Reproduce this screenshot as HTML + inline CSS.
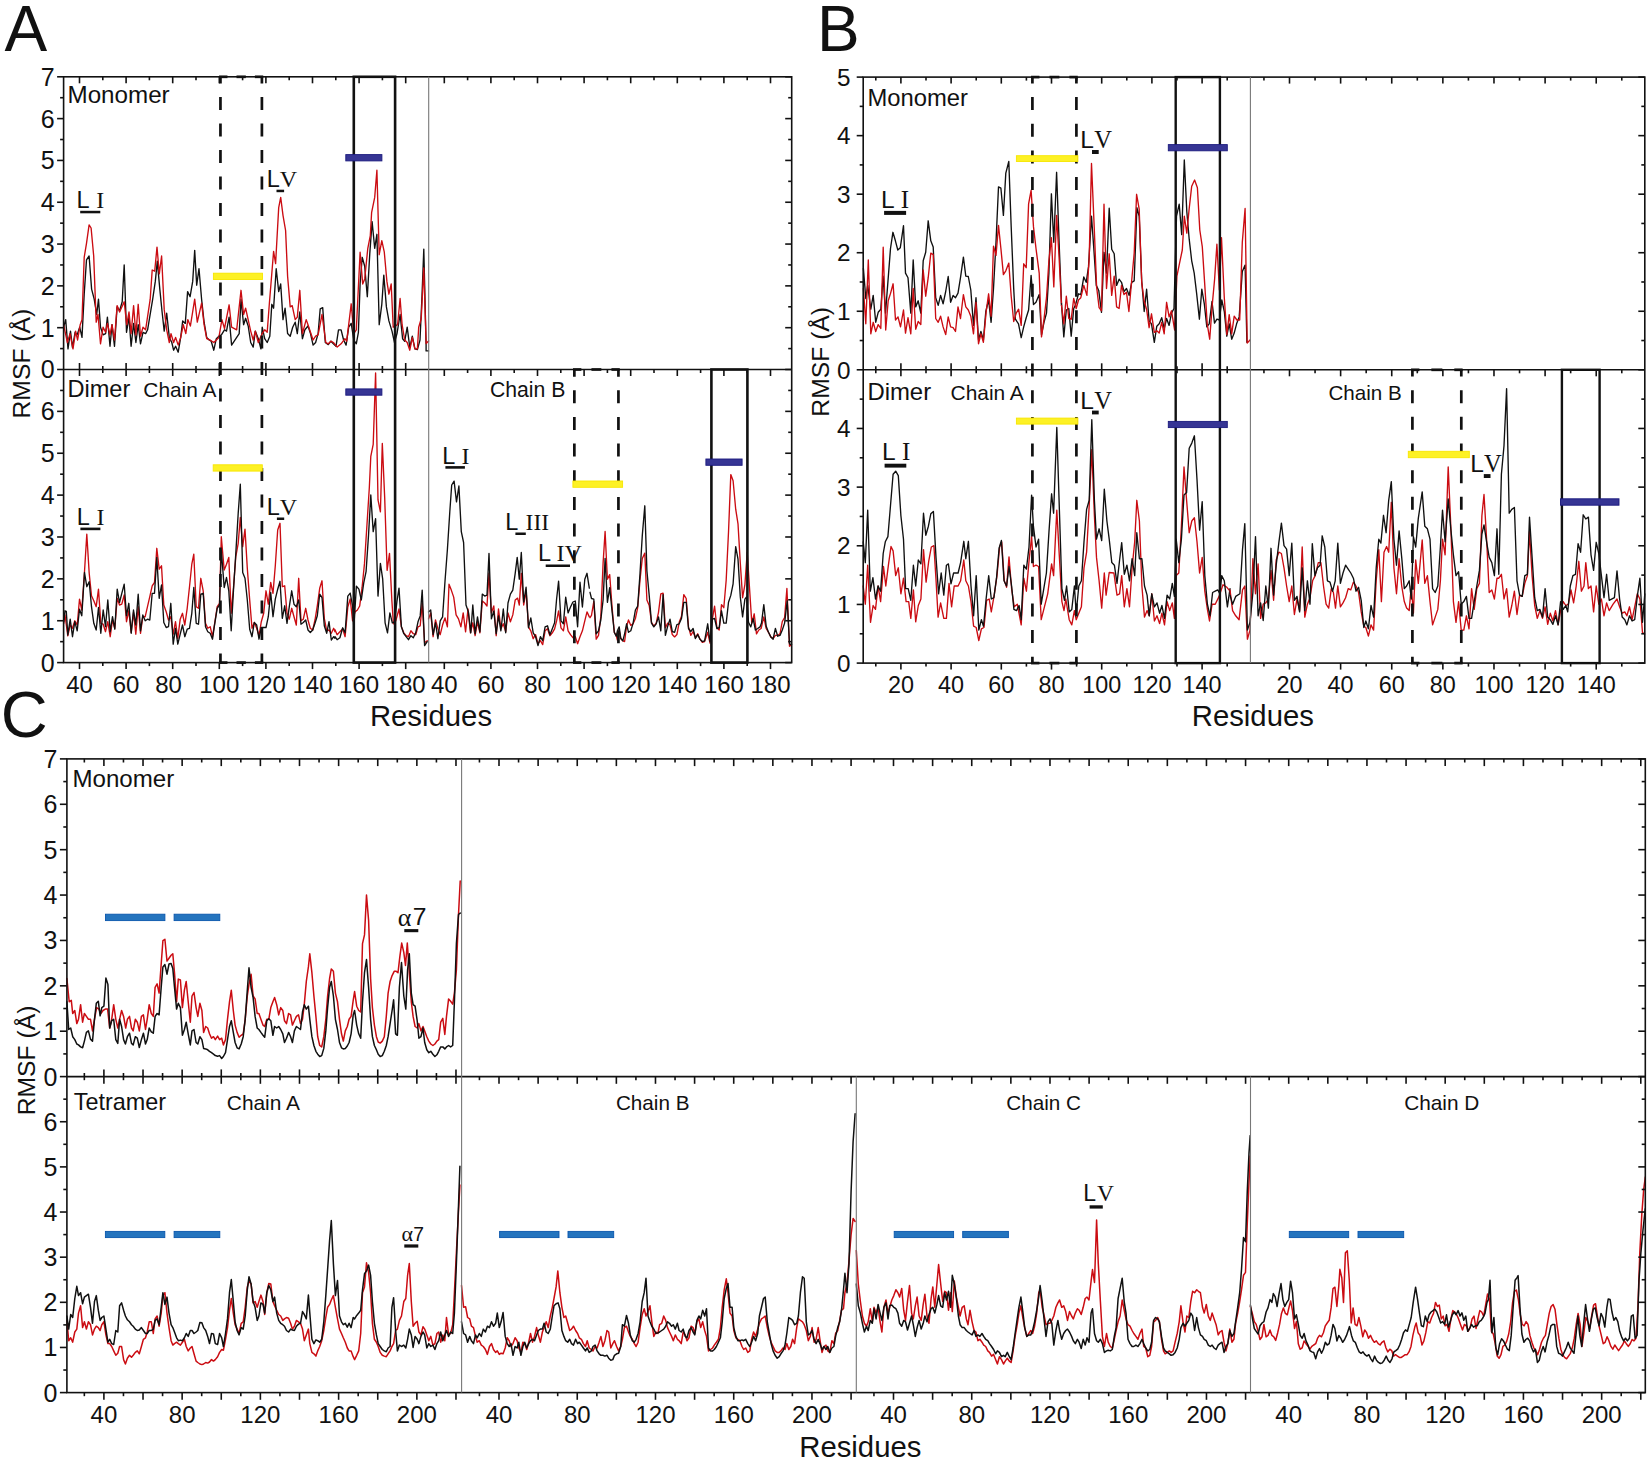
<!DOCTYPE html>
<html lang="en"><head><meta charset="utf-8"><title>RMSF figure</title>
<style>html,body{margin:0;padding:0;background:#fff}svg{display:block}</style></head>
<body><svg width="1650" height="1463" viewBox="0 0 1650 1463">
<rect width="1650" height="1463" fill="#fff"/>
<polyline points="63.6,327.2 65.7,319.6 68.0,348.9 70.5,331.1 72.5,347.6 75.1,332.3 77.1,334.9 79.7,327.2 82.0,337.4 84.2,294.2 86.5,259.8 89.1,256.0 91.6,289.1 94.2,299.2 96.7,314.5 98.5,299.2 100.5,327.2 103.1,334.9 105.6,333.6 107.4,317.1 110.0,346.3 112.0,324.7 114.5,346.3 117.1,306.9 119.6,310.7 122.2,301.8 124.2,264.9 126.5,332.3 129.0,317.1 131.1,346.3 133.6,323.4 135.9,342.5 138.2,324.7 140.5,343.8 143.0,332.3 145.6,333.6 147.6,329.8 152.7,299.2 155.3,281.4 157.3,261.1 159.8,289.1 162.1,312.0 164.2,331.1 166.7,313.2 169.3,337.4 171.8,342.5 173.6,350.2 175.6,346.3 178.2,352.2 180.7,337.4 182.7,320.9 185.3,323.4 187.6,291.6 190.1,296.7 192.7,281.4 194.7,250.4 196.7,285.2 199.0,268.7 201.6,299.2 204.1,322.2 206.7,337.4 209.2,340.0 211.2,341.2 213.8,350.2 216.3,338.7 218.9,336.2 221.4,334.9 224.5,329.8 226.5,331.1 229.1,317.1 231.6,345.1 236.7,337.4 239.2,333.6 241.0,299.2 243.6,324.7 245.6,318.3 248.2,326.0 250.7,342.5 253.2,347.1 255.3,331.1 258.3,338.7 260.9,348.9 262.2,327.2 264.7,338.7 267.2,342.5 269.8,336.2 271.8,304.3 273.6,308.2 276.2,268.7 278.7,291.6 280.7,284.0 283.0,319.6 285.1,308.2 287.6,333.6 290.2,336.2 292.7,327.2 295.2,322.2 297.3,333.6 299.8,312.0 302.4,338.7 304.9,329.8 308.0,326.0 310.5,333.6 313.1,345.1 315.6,342.5 318.1,333.6 320.2,308.9 322.7,307.6 325.3,342.5 328.3,344.6 330.9,341.2 333.4,343.8 336.0,346.3 338.5,329.8 341.1,329.8 343.6,340.0 346.1,345.1 348.7,327.2 351.2,323.4 353.8,340.0 356.3,343.8 358.4,332.3 360.1,284.0 362.2,257.3 364.7,266.2 367.3,296.7 369.8,253.4 372.1,221.6 374.7,248.3 376.9,234.3 379.2,324.7 381.8,304.3 383.8,275.1 386.4,306.9 388.9,320.9 392.0,331.1 394.5,342.5 397.0,333.6 400.1,314.5 402.6,338.7 404.7,341.2 407.2,327.2 409.8,347.6 412.3,336.2 414.9,348.9 417.4,349.6 420.0,340.0 422.0,295.9 423.8,249.1 426.1,345.1 426.1,350.9 428.6,350.9" fill="none" stroke="#101010" stroke-width="1.35" stroke-linejoin="round" stroke-linecap="round"/>
<polyline points="63.6,324.7 67.4,342.5 70.0,333.6 73.0,348.9 75.6,331.1 77.6,340.0 80.2,324.7 82.0,319.6 84.2,257.3 86.5,243.3 89.1,224.9 91.1,228.0 93.7,256.0 96.2,322.2 98.0,314.5 100.5,343.8 103.1,327.2 105.6,332.3 107.4,323.4 110.0,334.9 112.0,324.7 114.5,340.0 117.1,305.6 119.6,312.0 124.2,301.8 126.7,324.7 129.0,312.0 131.1,333.6 133.6,305.6 135.9,334.9 138.2,304.3 140.5,336.2 143.0,327.2 145.6,329.8 150.2,299.2 152.2,270.0 154.7,271.2 157.0,247.1 159.3,273.8 161.6,256.0 164.2,309.4 166.7,329.8 169.3,342.5 171.0,333.6 173.6,342.5 175.6,337.4 178.2,345.1 180.7,337.4 183.3,324.7 185.8,333.6 187.8,319.6 190.4,326.0 194.7,299.2 197.3,322.2 201.6,303.1 204.1,324.7 206.7,338.7 210.0,340.0 213.8,342.5 218.9,337.4 221.9,319.6 224.5,328.5 229.1,304.8 231.6,327.2 236.7,329.8 241.0,290.3 243.6,314.5 245.6,308.2 250.7,331.1 253.2,340.0 255.3,331.1 258.3,342.5 262.2,333.6 264.7,329.8 267.2,332.3 269.3,304.3 273.6,251.4 275.6,263.6 278.7,207.6 280.7,197.4 283.0,215.3 285.6,230.5 287.6,276.3 290.2,306.9 292.2,305.6 295.2,319.6 297.3,317.1 299.8,290.3 302.4,333.6 306.2,319.6 308.0,324.7 313.1,340.0 315.6,336.2 318.1,334.9 322.0,314.5 325.8,342.5 328.3,343.8 330.9,341.2 333.4,342.5 337.2,347.1 341.1,343.8 344.9,338.7 346.7,341.2 351.2,303.8 353.8,333.6 356.3,329.8 360.1,252.2 362.7,284.0 364.7,278.9 367.8,248.3 370.3,235.6 371.6,212.7 374.7,197.4 376.9,170.2 379.2,254.7 381.8,240.7 384.3,252.2 386.9,281.4 388.9,294.2 391.2,284.0 393.2,327.2 397.6,324.7 400.1,298.5 402.1,324.7 404.7,340.0 407.2,342.5 409.8,350.2 412.3,337.4 414.9,348.9 417.4,348.9 418.7,327.2 421.2,318.8 423.8,267.9 426.1,343.5 428.6,341.0" fill="none" stroke="#cb0c12" stroke-width="1.35" stroke-linejoin="round" stroke-linecap="round"/>
<polyline points="863.2,586.0 865.3,604.2 867.7,565.2 870.5,622.3 873.1,605.5 875.5,609.4 878.1,586.0 880.6,601.6 883.5,566.5 885.8,586.0 888.4,565.2 891.0,546.5 893.1,550.9 895.7,575.6 898.3,567.8 900.9,593.8 903.5,578.2 906.1,601.6 908.7,601.6 910.8,618.4 913.4,589.9 915.7,621.8 918.3,605.5 920.9,599.0 923.5,549.6 926.1,582.1 928.7,561.3 931.3,547.0 933.9,545.7 936.0,579.5 938.1,617.1 940.6,602.9 943.8,618.4 946.4,618.4 949.0,583.4 951.6,606.8 954.2,586.0 958.1,586.0 960.6,580.8 963.8,560.0 965.8,580.8 968.4,586.0 971.0,601.6 973.6,626.2 976.2,627.5 978.8,640.5 981.4,628.8 984.0,627.5 986.6,600.3 989.2,599.0 991.3,611.9 994.4,593.8 997.0,575.6 999.6,547.0 1001.7,541.8 1004.3,580.8 1006.6,587.3 1009.0,556.9 1011.6,588.6 1014.2,606.8 1017.3,604.2 1021.2,624.9 1023.8,578.2 1026.4,591.2 1029.0,561.3 1031.6,536.6 1033.4,566.5 1036.0,565.2 1038.6,566.5 1041.2,619.7 1043.8,609.4 1047.7,593.8 1051.6,563.9 1053.6,575.6 1056.8,510.1 1059.4,557.4 1061.9,601.6 1064.0,610.6 1065.8,599.0 1069.2,619.7 1071.8,624.9 1074.4,610.6 1076.2,619.7 1081.4,606.8 1084.0,567.8 1086.6,552.2 1089.2,505.5 1091.8,449.6 1094.4,515.8 1096.5,557.4 1099.1,580.8 1101.7,608.1 1104.3,573.0 1106.1,595.1 1109.2,572.5 1113.9,573.0 1117.0,595.1 1119.6,593.8 1121.7,575.6 1124.3,606.8 1126.9,588.6 1129.5,606.8 1132.1,567.8 1134.7,541.8 1136.8,500.3 1139.4,521.0 1141.9,586.0 1144.5,617.1 1147.1,610.6 1149.2,615.8 1151.8,593.8 1154.4,621.0 1157.0,615.8 1159.6,623.6 1161.9,613.2 1164.5,624.9 1167.1,601.6 1169.7,610.6 1172.3,602.9 1174.4,618.4 1176.2,575.6 1178.8,573.0 1181.4,526.2 1184.0,467.0 1186.6,500.3 1189.2,532.7 1191.8,521.0 1194.4,517.7 1197.0,541.8 1199.6,573.0 1202.2,557.4 1204.8,591.2 1207.4,609.4 1209.5,621.0 1212.1,604.2 1215.2,604.2 1219.1,596.4 1223.0,584.7 1226.9,587.3 1230.0,591.2" fill="none" stroke="#cb0c12" stroke-width="1.35" stroke-linejoin="round" stroke-linecap="round"/>
<polyline points="863.2,541.8 865.3,562.6 867.7,510.1 870.3,591.2 872.9,577.7 875.5,599.0 878.1,586.0 880.6,591.2 883.2,553.5 885.3,541.8 887.9,536.6 890.5,505.5 893.1,474.3 895.7,471.2 898.3,475.6 900.9,515.8 903.5,539.2 905.6,588.6 908.2,588.6 910.8,600.3 913.4,565.2 915.7,586.0 918.3,560.0 920.9,563.9 923.5,513.2 925.8,535.3 928.4,526.2 930.8,513.8 933.4,511.4 936.0,557.4 938.6,593.8 941.2,573.0 943.8,595.1 946.4,565.2 948.4,563.9 951.0,583.9 953.6,573.0 958.1,573.0 960.6,562.6 963.8,541.3 965.8,558.7 968.4,541.3 971.0,586.0 973.6,615.8 976.2,575.6 978.8,630.1 981.4,619.7 983.5,626.2 986.1,599.0 988.7,575.6 991.3,599.0 993.9,597.7 996.5,578.2 999.1,548.3 1001.4,540.5 1004.0,580.8 1006.6,586.0 1009.0,566.5 1011.6,586.0 1013.9,609.4 1016.5,610.6 1019.1,605.5 1021.2,619.7 1023.8,565.2 1026.4,569.1 1029.0,547.0 1031.6,495.1 1033.4,526.2 1036.0,547.0 1038.6,539.2 1041.2,604.2 1043.8,588.6 1046.4,573.0 1049.0,531.4 1051.6,493.8 1053.6,513.2 1056.8,427.5 1059.4,510.6 1061.9,588.6 1064.5,600.3 1066.6,586.0 1069.2,611.9 1071.8,609.4 1074.4,586.0 1076.2,613.2 1078.8,586.0 1081.4,580.8 1084.0,541.8 1086.6,509.4 1089.2,500.3 1091.8,419.7 1094.4,500.3 1096.5,539.2 1099.1,528.8 1101.7,540.5 1104.3,489.1 1106.9,521.0 1109.2,539.2 1111.8,562.6 1114.4,565.2 1117.0,583.4 1119.6,560.0 1121.7,542.6 1124.3,574.3 1126.9,565.2 1129.5,580.8 1132.1,558.7 1134.7,575.6 1136.8,532.7 1139.4,558.7 1141.9,558.7 1144.5,586.0 1147.1,595.1 1149.2,615.8 1151.8,593.8 1154.4,606.8 1157.0,602.9 1159.6,613.2 1161.9,605.5 1164.5,618.4 1167.1,595.1 1169.7,599.0 1172.3,583.4 1174.4,596.4 1176.2,539.2 1178.8,562.6 1181.4,539.2 1184.0,495.1 1186.6,492.5 1189.2,448.3 1191.8,443.1 1194.4,435.8 1197.0,479.5 1199.6,530.1 1202.2,501.6 1204.8,575.6 1207.4,604.2 1210.0,615.8 1212.6,592.5 1215.2,591.2 1217.8,589.9 1219.9,593.8 1221.7,575.6 1224.3,580.8 1227.4,606.8 1230.0,588.6" fill="none" stroke="#101010" stroke-width="1.35" stroke-linejoin="round" stroke-linecap="round"/>
<polyline points="1230.0,589.9 1232.6,610.6 1235.7,615.8 1239.1,619.7 1242.5,589.9 1244.8,586.0 1247.4,639.2 1250.0,630.1 1252.9,558.7 1255.5,593.8 1258.1,563.9 1260.6,618.4 1263.2,604.2 1265.8,602.9 1268.4,599.0 1271.0,570.4 1273.6,600.3 1276.2,560.0 1278.8,552.2 1281.4,553.5 1284.0,567.8 1286.6,586.0 1289.2,601.6 1291.8,586.0 1294.4,614.5 1297.0,599.0 1299.6,610.6 1302.2,547.0 1304.8,617.1 1307.4,604.2 1310.0,597.7 1312.6,580.8 1315.2,575.6 1318.3,562.6 1320.9,562.6 1323.5,586.0 1326.1,604.2 1328.7,608.1 1331.3,588.6 1333.4,592.5 1335.5,608.1 1337.8,586.0 1340.4,606.8 1343.0,602.9 1345.6,597.7 1348.2,588.6 1350.8,589.9 1353.4,582.1 1356.0,586.0 1358.6,592.5 1361.2,611.9 1363.8,626.2 1365.8,627.5 1368.4,636.1 1371.0,624.9 1373.6,630.1 1376.2,580.8 1378.8,549.6 1381.4,601.6 1384.0,552.2 1386.6,546.5 1388.7,552.2 1391.3,502.3 1393.9,567.8 1396.5,593.8 1399.1,558.7 1401.7,586.0 1404.3,601.6 1406.6,608.1 1409.2,610.6 1411.3,586.0 1413.4,613.2 1415.7,560.0 1418.3,583.4 1422.2,540.0 1424.8,583.4 1427.4,575.6 1430.0,601.6 1432.6,624.9 1435.2,617.1 1437.8,609.4 1440.4,580.8 1442.5,539.2 1445.1,554.8 1448.2,467.0 1450.8,526.2 1453.4,601.6 1456.0,622.3 1458.6,601.6 1461.2,630.1 1463.8,630.1 1466.4,615.8 1469.0,628.8 1471.6,588.6 1474.2,609.4 1476.8,588.6 1479.4,583.4 1481.9,515.8 1484.0,494.5 1486.6,539.2 1489.2,592.5 1491.8,589.9 1494.4,599.0 1497.0,578.2 1498.8,578.2 1501.4,574.3 1504.0,599.0 1506.6,588.6 1509.2,617.1 1511.8,605.5 1514.4,591.2 1517.0,614.5 1519.6,595.1 1522.2,596.4 1524.8,583.4 1527.4,575.6 1529.5,531.4 1532.1,575.6 1534.7,605.5 1537.3,618.4 1539.9,610.6 1542.5,618.4 1545.1,606.8 1547.7,624.4 1550.3,613.2 1552.9,621.0 1555.5,610.6 1558.1,624.9 1560.6,610.6 1563.2,601.6 1565.8,605.5 1568.4,604.2 1571.0,589.9 1573.6,602.9 1576.2,586.0 1578.8,561.3 1581.4,591.2 1584.0,586.0 1585.8,562.6 1588.4,588.6 1591.0,586.0 1593.6,611.9 1596.2,586.0 1598.8,604.2 1601.4,599.0 1604.0,615.8 1606.6,602.9 1609.2,610.6 1613.1,604.2 1617.0,599.0 1619.6,606.8 1622.2,613.2 1624.8,611.9 1626.9,615.8 1629.5,606.8 1632.1,619.7 1634.7,606.8 1637.3,593.8 1639.9,599.0 1642.5,632.7 1644.8,634.0" fill="none" stroke="#cb0c12" stroke-width="1.35" stroke-linejoin="round" stroke-linecap="round"/>
<polyline points="1230.0,595.1 1232.6,604.2 1235.7,596.4 1239.9,593.8 1242.5,549.6 1244.8,523.6 1247.4,630.1 1250.0,622.3 1252.9,592.5 1255.5,536.6 1258.1,615.8 1260.6,602.9 1263.2,620.5 1265.8,586.0 1268.4,608.1 1271.0,548.3 1273.6,595.1 1276.2,565.2 1278.8,543.1 1281.4,523.1 1284.0,545.7 1286.6,549.1 1289.2,575.6 1291.8,543.1 1294.4,600.3 1297.0,596.4 1299.6,611.9 1302.2,567.8 1304.8,610.6 1307.4,580.8 1310.0,604.2 1312.3,543.6 1314.9,575.6 1317.5,567.8 1320.1,565.2 1322.2,535.8 1324.8,547.0 1327.4,580.8 1330.0,582.1 1332.6,591.2 1335.2,580.8 1337.8,543.1 1340.4,583.4 1343.0,573.0 1345.6,565.2 1348.2,569.1 1350.8,573.0 1353.4,578.2 1356.0,591.2 1358.6,587.3 1361.2,600.3 1363.8,627.5 1365.8,621.0 1368.4,628.8 1371.0,605.5 1373.6,617.1 1376.2,567.8 1378.8,539.2 1380.9,543.1 1383.5,515.3 1386.1,532.7 1388.7,500.3 1391.3,481.6 1393.9,539.2 1396.5,565.2 1399.1,530.9 1401.7,557.4 1404.3,588.6 1406.6,586.0 1409.2,580.8 1411.3,599.0 1413.4,536.6 1415.7,547.0 1418.3,518.4 1422.2,491.9 1424.8,526.2 1427.4,528.8 1430.0,539.2 1432.6,588.6 1435.2,592.5 1437.8,586.0 1440.4,547.0 1442.5,510.1 1445.1,541.8 1448.2,499.0 1450.8,528.8 1453.4,554.8 1456.0,575.6 1458.6,571.7 1461.2,604.2 1463.8,601.6 1466.4,596.4 1469.0,618.4 1471.6,618.4 1474.2,601.6 1476.8,586.0 1479.4,570.4 1481.9,534.0 1484.0,524.9 1486.6,541.8 1489.2,557.4 1491.8,562.6 1494.4,575.6 1497.0,528.8 1498.8,574.3 1501.4,474.3 1504.0,445.7 1506.6,388.6 1509.2,513.2 1511.8,509.4 1514.4,507.5 1517.0,580.8 1519.6,595.1 1522.2,596.4 1524.8,575.6 1527.4,574.3 1529.5,517.1 1532.1,557.4 1534.7,597.7 1537.3,610.6 1539.9,609.4 1542.5,617.1 1545.1,588.6 1547.7,617.1 1550.3,619.7 1552.9,624.4 1555.5,615.8 1558.1,624.9 1560.6,601.6 1563.2,609.4 1565.8,605.5 1567.7,611.9 1570.3,586.0 1572.9,575.6 1575.5,574.3 1578.1,543.6 1580.6,552.2 1583.2,514.8 1585.8,519.0 1588.4,517.1 1591.0,554.8 1593.6,570.4 1596.2,542.3 1598.8,553.5 1601.4,575.6 1604.0,597.7 1606.6,574.3 1609.2,600.3 1614.4,597.7 1617.0,570.9 1619.6,599.0 1622.2,617.1 1624.8,619.7 1626.9,624.9 1629.5,615.8 1632.1,621.0 1634.7,619.7 1637.3,596.4 1639.9,578.2 1642.5,622.3 1644.8,593.8" fill="none" stroke="#101010" stroke-width="1.35" stroke-linejoin="round" stroke-linecap="round"/>
<polyline points="66.9,978.5 69.2,1001.8 71.3,1000.4 72.7,1013.5 74.8,1010.5 76.8,1023.6 78.5,1019.3 80.6,1004.7 82.6,1022.2 84.4,1013.5 86.4,1016.4 88.4,1019.3 90.5,1019.3 92.5,1030.9 94.5,1019.3 96.6,1007.6 98.9,1009.1 100.9,1013.5 103.0,1010.5 105.3,1009.1 107.6,1009.1 109.7,1028.0 111.7,1019.3 113.7,1004.7 115.8,1019.3 117.8,1028.0 119.6,1019.3 121.6,1010.5 123.6,1016.4 125.7,1028.0 127.4,1019.3 129.5,1016.4 131.5,1028.0 133.2,1030.9 135.3,1019.3 137.3,1022.2 139.3,1030.9 141.4,1016.4 143.4,1014.9 145.5,1029.5 147.2,1019.3 149.2,1004.7 151.3,1013.5 153.3,1016.4 155.1,987.3 157.1,983.8 159.1,993.1 161.2,964.0 162.9,940.7 164.9,939.3 167.0,961.1 169.0,958.2 171.1,955.3 172.8,953.8 174.5,972.7 176.6,1001.8 178.3,979.1 180.4,980.0 182.4,1007.6 184.4,990.2 186.2,981.5 188.2,1001.8 190.3,1022.2 192.0,996.0 194.0,992.5 196.1,1007.6 197.8,1016.4 199.9,1003.3 201.9,1010.5 203.6,1032.4 205.7,1026.5 207.7,1028.0 209.5,1033.8 211.5,1038.2 213.5,1036.7 215.3,1039.6 217.6,1036.1 219.6,1039.6 221.7,1038.2 223.4,1044.9 225.5,1039.6 227.5,1019.3 229.5,1001.8 231.3,990.2 233.3,1010.5 235.1,1025.1 237.1,1032.4 239.1,1037.3 241.2,1035.3 243.2,1033.8 245.2,1019.3 247.3,996.0 249.0,984.4 251.1,974.2 253.1,996.0 255.1,998.9 257.2,1013.5 258.9,1013.5 260.9,1019.3 263.0,1025.1 264.7,1026.5 266.8,1019.3 268.8,1019.3 270.8,1007.6 272.9,1001.8 274.6,997.5 276.7,1004.7 278.7,1014.9 280.7,1007.6 282.8,1010.5 284.5,1020.7 286.5,1023.6 288.6,1013.5 290.6,1014.9 292.4,1025.1 294.4,1020.7 296.4,1016.4 298.5,1014.9 300.5,1023.6 302.5,1019.3 304.3,1004.1 306.3,981.5 308.4,966.9 309.8,953.8 311.9,972.7 313.9,996.0 315.9,1016.4 317.7,1036.7 319.7,1045.5 321.7,1046.9 323.8,1036.7 325.8,1019.3 327.6,996.0 329.6,978.5 331.3,968.9 333.4,971.3 335.4,993.1 337.5,1001.8 339.5,1019.3 341.5,1033.8 343.3,1041.1 345.3,1030.9 347.3,1026.5 349.1,1019.3 351.1,1016.4 353.2,1000.4 354.6,991.6 356.7,1006.2 358.7,1010.5 360.7,1012.0 362.5,943.6 364.5,934.9 366.5,895.1 368.6,920.4 370.6,978.5 372.4,1007.6 374.4,1025.1 376.4,1036.7 378.2,1042.0 380.2,1043.1 382.3,1041.1 384.3,1036.7 386.3,1016.4 388.1,993.1 390.1,981.5 392.1,975.6 394.2,971.3 396.2,971.3 398.0,972.7 400.0,955.3 401.7,943.1 403.8,952.4 405.5,965.5 407.3,943.1 409.3,972.7 411.3,1001.8 413.1,1016.4 415.1,1026.5 417.2,1028.0 418.9,1023.6 420.9,1030.9 423.0,1026.5 424.7,1030.9 426.8,1036.7 428.8,1041.1 430.8,1044.0 432.9,1045.5 434.9,1044.0 436.9,1041.1 438.7,1039.6 440.7,1022.2 442.8,1018.4 444.8,1034.4 446.5,1016.4 448.6,998.9 450.6,1001.2 452.7,1004.1 454.4,993.1 456.4,969.8 458.5,914.5 460.2,881.1" fill="none" stroke="#cb0c12" stroke-width="1.5" stroke-linejoin="round" stroke-linecap="round"/>
<polyline points="66.9,1001.8 68.7,1029.5 70.7,1028.0 72.7,1036.7 74.8,1039.6 76.8,1044.0 78.5,1044.9 80.6,1046.9 82.6,1047.8 84.4,1041.1 86.4,1032.4 88.4,1030.9 90.5,1039.1 92.5,1041.1 94.5,1019.3 96.3,1003.3 98.3,1001.2 100.1,1015.8 101.8,1007.6 103.9,1006.2 105.9,978.0 107.9,984.4 109.7,1028.0 111.7,1020.7 113.7,1019.3 115.8,1039.6 117.8,1043.4 119.6,1019.3 121.6,1026.5 123.6,1039.6 125.4,1044.0 127.4,1036.7 129.5,1033.2 131.5,1043.4 133.2,1044.9 135.3,1036.7 137.3,1038.2 139.3,1047.5 141.4,1039.6 143.4,1033.2 145.5,1044.0 147.2,1039.6 149.2,1028.0 151.3,1031.8 153.3,1033.2 155.1,1016.4 157.1,1013.5 159.1,1014.9 161.2,987.3 162.9,966.9 164.9,964.6 167.0,974.2 169.0,964.0 171.1,963.4 172.8,968.4 174.5,987.3 176.6,1009.1 178.3,1003.3 180.4,1007.6 182.4,1035.3 184.4,1029.5 186.2,1022.2 188.2,1033.8 190.3,1044.9 192.0,1030.9 194.0,1029.5 196.1,1042.5 197.8,1044.0 199.9,1036.7 201.9,1039.6 203.6,1048.4 205.7,1048.9 207.7,1049.8 209.5,1051.3 211.5,1052.7 213.5,1054.2 215.3,1055.6 217.6,1056.2 219.6,1055.6 221.7,1058.5 223.4,1056.5 225.5,1052.7 227.5,1039.6 229.5,1026.5 231.3,1020.7 233.3,1032.4 235.1,1042.5 237.1,1047.8 239.1,1048.9 241.2,1044.0 243.2,1036.7 245.2,1019.3 247.3,990.2 249.0,967.8 251.1,987.3 253.1,997.5 255.1,1016.4 257.2,1028.0 258.9,1029.5 260.9,1032.4 263.0,1035.3 264.7,1037.3 266.8,1020.7 268.8,1018.7 270.8,1020.7 272.9,1035.3 274.6,1026.5 276.7,1028.0 278.7,1026.5 280.7,1029.5 282.8,1033.8 284.5,1042.5 286.5,1038.2 288.6,1032.4 290.6,1036.7 292.4,1042.5 294.4,1030.9 296.4,1026.5 298.5,1028.0 300.5,1029.5 302.5,1012.0 304.3,1004.7 306.3,1009.1 308.4,1006.2 309.8,1019.3 311.9,1036.7 313.9,1045.5 315.9,1051.3 317.7,1054.2 319.7,1056.5 321.7,1055.6 323.8,1048.4 325.8,1030.9 327.6,1007.6 329.6,987.3 331.3,981.5 333.4,996.0 335.4,1019.3 337.5,1029.5 339.5,1042.5 341.5,1047.8 343.3,1048.9 345.3,1048.4 347.3,1046.0 349.1,1042.5 351.1,1033.8 353.2,1014.9 354.6,1010.5 356.7,1025.1 358.7,1033.8 360.7,1038.2 362.5,1001.8 364.5,972.7 366.5,959.6 368.6,987.3 370.6,1019.3 372.4,1036.7 374.4,1045.5 376.4,1049.8 378.2,1054.2 380.2,1056.5 382.3,1055.6 384.3,1051.3 386.3,1045.5 388.1,1036.7 390.1,1023.6 392.1,1010.5 393.6,999.8 395.6,1033.8 397.4,1035.3 399.4,987.3 401.5,962.5 403.8,996.0 405.8,1009.1 407.6,969.8 409.3,953.8 411.3,993.1 413.1,1004.7 415.1,1006.2 417.2,1020.7 418.9,1038.2 420.9,1036.7 423.0,1028.0 424.7,1042.5 426.8,1049.8 428.8,1052.7 430.8,1051.3 432.9,1054.2 434.9,1056.5 436.9,1054.8 438.7,1051.3 440.7,1046.9 442.8,1046.9 444.8,1048.9 446.5,1046.9 448.6,1045.5 450.6,1046.9 452.7,1045.5 454.4,1001.8 456.4,943.6 458.5,914.5 460.2,913.1" fill="none" stroke="#101010" stroke-width="1.5" stroke-linejoin="round" stroke-linecap="round"/>
<polyline points="66.9,1320.4 68.7,1340.7 70.7,1337.8 72.7,1342.2 74.8,1332.0 76.8,1329.1 78.5,1313.1 80.6,1305.8 82.6,1327.6 84.4,1321.8 86.4,1329.1 88.4,1321.8 90.5,1324.7 92.5,1334.9 94.5,1329.1 96.3,1326.2 98.3,1327.6 100.1,1330.5 101.8,1324.7 103.9,1321.8 105.9,1334.9 107.9,1343.6 109.7,1343.6 111.7,1346.5 113.7,1350.9 115.8,1355.3 117.8,1353.2 119.6,1346.5 121.6,1346.5 123.6,1359.6 125.4,1364.0 127.4,1358.2 129.5,1355.3 131.5,1357.3 133.2,1355.3 135.3,1352.4 137.3,1350.9 139.3,1353.8 141.4,1346.5 143.4,1339.3 145.5,1337.8 147.2,1332.0 149.2,1321.8 151.3,1321.8 153.3,1333.5 155.1,1318.9 157.1,1316.0 159.1,1326.2 161.2,1313.1 162.9,1295.6 164.9,1292.7 167.0,1313.1 169.0,1327.6 171.1,1340.7 172.8,1345.1 174.5,1343.6 176.6,1342.2 178.3,1343.6 180.4,1345.1 182.4,1342.2 184.4,1339.3 186.2,1346.5 188.2,1350.9 190.3,1348.0 192.0,1346.5 194.0,1353.8 196.1,1361.1 197.8,1362.5 199.9,1364.0 201.9,1364.6 203.6,1364.0 205.7,1362.5 207.7,1363.1 209.5,1362.0 211.5,1359.6 213.5,1361.1 215.3,1359.6 217.6,1356.7 219.6,1352.4 221.7,1349.5 223.4,1350.3 225.5,1339.3 227.5,1327.6 229.5,1310.2 231.3,1298.5 233.3,1313.1 235.1,1324.7 237.1,1329.1 239.1,1333.5 241.2,1323.3 243.2,1321.8 245.2,1307.3 247.3,1286.9 249.0,1281.1 251.1,1284.0 253.1,1302.9 255.1,1301.5 257.2,1307.3 258.9,1301.5 260.9,1295.1 263.0,1301.5 264.7,1314.5 266.8,1292.7 268.8,1283.4 270.8,1284.0 272.9,1301.5 274.6,1305.8 276.7,1310.2 278.7,1314.5 280.7,1316.0 282.8,1320.4 284.5,1318.9 286.5,1317.5 288.6,1318.3 290.6,1323.3 292.4,1329.1 294.4,1326.2 296.4,1320.4 298.5,1321.8 300.5,1323.3 302.5,1329.1 304.3,1340.7 306.3,1334.9 308.4,1329.1 309.8,1343.6 311.9,1352.4 313.9,1353.8 315.9,1356.1 317.7,1350.9 319.7,1346.5 321.7,1340.7 323.8,1330.5 325.8,1317.5 327.6,1307.3 329.6,1304.4 331.3,1300.0 333.4,1295.6 335.4,1307.3 337.5,1318.9 339.5,1329.1 341.5,1333.5 343.3,1337.8 345.3,1342.2 347.3,1348.0 349.1,1350.9 351.1,1350.9 353.2,1356.7 354.6,1359.6 356.7,1355.3 358.7,1350.9 360.7,1333.5 362.5,1292.7 364.5,1286.9 366.5,1262.8 368.6,1272.4 370.6,1292.7 372.4,1323.3 374.4,1339.3 376.4,1342.2 378.2,1346.5 380.2,1352.4 382.3,1355.3 384.3,1356.1 386.3,1356.7 388.1,1353.8 390.1,1350.9 391.9,1346.5 393.6,1343.6 395.6,1330.5 397.4,1329.1 399.4,1320.4 401.5,1316.0 403.8,1301.5 405.8,1298.5 407.6,1275.3 409.3,1263.6 411.3,1301.5 413.1,1326.2 415.1,1323.3 417.2,1321.2 418.9,1332.0 420.9,1334.9 423.0,1326.8 424.7,1329.1 426.8,1334.9 428.8,1340.7 430.8,1336.4 432.9,1345.1 434.9,1343.6 436.9,1333.5 438.7,1332.0 440.7,1342.2 442.8,1334.9 444.8,1340.7 446.5,1317.5 448.6,1334.9 450.6,1333.5 452.7,1324.7 454.4,1292.7 456.4,1252.0 458.5,1211.3 459.9,1185.1" fill="none" stroke="#cb0c12" stroke-width="1.5" stroke-linejoin="round" stroke-linecap="round"/>
<polyline points="66.9,1316.0 68.7,1329.1 70.7,1314.5 72.7,1317.5 74.8,1298.5 76.8,1286.3 78.5,1295.6 80.6,1292.7 82.6,1303.8 84.4,1297.1 86.4,1295.6 88.4,1294.2 90.5,1307.3 92.5,1323.3 94.5,1301.5 96.3,1295.6 98.3,1310.2 100.1,1320.4 101.8,1317.5 103.9,1316.0 105.9,1329.1 107.9,1342.2 109.7,1339.3 111.7,1343.6 113.7,1344.5 115.8,1330.5 117.8,1332.0 119.6,1305.8 121.6,1302.9 123.6,1310.2 125.4,1316.0 127.4,1319.8 129.5,1321.8 131.5,1324.7 133.2,1326.2 135.3,1329.1 137.3,1330.5 139.3,1330.0 141.4,1327.6 143.4,1330.5 145.5,1333.5 147.2,1333.5 149.2,1330.5 151.3,1330.5 153.3,1329.1 155.1,1320.4 157.1,1318.9 159.1,1324.7 161.2,1307.3 162.9,1292.7 164.9,1304.4 167.0,1297.1 169.0,1313.1 171.1,1324.7 172.8,1327.6 174.5,1332.0 176.6,1337.8 178.3,1340.7 180.4,1340.1 182.4,1340.7 184.4,1337.8 186.2,1333.5 188.2,1336.4 190.3,1330.5 192.0,1330.5 194.0,1333.5 196.1,1332.0 197.8,1330.5 199.9,1322.4 201.9,1322.7 203.6,1327.6 205.7,1330.5 207.7,1336.4 209.5,1343.6 211.5,1333.5 213.5,1334.0 215.3,1343.6 217.6,1344.5 219.6,1333.5 221.7,1337.8 223.4,1346.5 225.5,1333.5 227.5,1318.9 229.5,1292.7 231.3,1279.6 233.3,1301.5 235.1,1321.8 237.1,1330.5 239.1,1334.9 241.2,1327.6 243.2,1329.1 245.2,1316.0 247.3,1289.8 249.0,1276.7 251.1,1284.0 253.1,1301.5 255.1,1307.3 257.2,1320.4 258.9,1316.0 260.9,1302.9 263.0,1304.4 264.7,1313.1 266.8,1292.7 268.8,1285.5 270.8,1289.8 272.9,1301.5 274.6,1297.1 276.7,1313.1 278.7,1320.4 280.7,1323.3 282.8,1324.7 284.5,1326.2 286.5,1330.5 288.6,1332.0 290.6,1329.1 292.4,1330.0 294.4,1330.5 296.4,1326.2 298.5,1324.1 300.5,1323.3 302.5,1311.6 304.3,1314.5 306.3,1318.9 308.4,1295.1 309.8,1313.1 311.9,1339.3 313.9,1343.6 315.9,1339.9 317.7,1340.7 319.7,1342.2 321.7,1339.3 323.8,1321.8 325.8,1295.6 327.6,1269.5 329.6,1240.4 331.3,1220.6 333.4,1263.6 335.4,1295.6 337.5,1280.5 339.5,1316.0 341.5,1321.8 343.3,1324.7 345.3,1323.3 347.3,1327.1 349.1,1323.3 351.1,1327.6 353.2,1317.5 354.6,1318.9 356.7,1315.4 358.7,1313.1 360.7,1310.2 362.5,1289.8 364.5,1273.8 366.5,1270.9 368.6,1265.1 370.6,1275.3 372.4,1301.5 374.4,1323.3 376.4,1334.9 378.2,1343.6 380.2,1346.5 382.3,1349.5 384.3,1350.9 386.3,1351.8 388.1,1348.0 390.1,1346.5 391.9,1307.3 393.6,1297.7 395.6,1330.5 397.4,1350.9 399.4,1345.1 401.5,1346.5 403.8,1345.1 405.8,1348.0 407.6,1339.3 409.3,1329.1 411.3,1334.9 413.1,1347.4 415.1,1336.4 417.2,1339.3 418.9,1343.6 420.9,1336.4 423.0,1332.0 424.7,1334.9 426.8,1348.0 428.8,1343.6 430.8,1346.5 432.9,1345.1 434.9,1349.5 436.9,1343.6 438.7,1340.7 440.7,1332.0 442.8,1340.7 444.8,1334.9 446.5,1330.5 448.6,1336.4 450.6,1332.0 452.7,1333.5 454.4,1313.1 456.4,1263.6 458.5,1205.5 459.9,1166.2" fill="none" stroke="#101010" stroke-width="1.5" stroke-linejoin="round" stroke-linecap="round"/>
<polyline points="461.5,1285.5 463.6,1307.3 465.6,1306.7 467.6,1317.5 469.7,1318.9 471.4,1326.2 473.5,1327.6 475.5,1336.4 477.2,1342.2 479.3,1340.7 481.3,1345.1 483.3,1346.5 485.4,1349.5 487.4,1354.4 489.5,1346.5 491.5,1343.6 493.5,1349.5 495.6,1352.4 497.3,1350.9 499.3,1354.4 501.1,1353.2 503.1,1353.8 505.2,1348.0 507.2,1337.8 509.2,1340.7 511.0,1346.5 513.0,1343.6 515.1,1337.8 517.1,1340.7 518.8,1348.0 520.9,1352.4 522.9,1342.2 524.7,1343.6 526.7,1349.5 528.7,1342.2 530.5,1333.5 532.5,1342.2 534.5,1336.4 536.6,1327.6 538.3,1334.9 540.4,1342.2 542.4,1332.0 544.1,1327.6 546.2,1321.8 548.2,1327.6 550.3,1316.0 552.3,1307.3 554.0,1298.5 556.1,1286.9 557.8,1270.9 559.9,1292.7 561.9,1307.3 563.9,1317.5 565.7,1316.0 567.7,1323.3 569.7,1330.5 571.5,1329.1 573.5,1326.2 575.6,1330.5 577.6,1333.5 579.3,1337.8 581.4,1339.3 583.4,1343.6 585.5,1346.5 587.2,1340.7 589.2,1348.0 591.3,1349.5 593.0,1350.9 595.1,1346.5 597.1,1348.0 599.1,1342.2 600.9,1336.4 602.9,1346.5 604.9,1340.7 607.0,1330.5 608.7,1332.0 610.8,1348.0 612.8,1343.6 614.5,1340.7 616.6,1346.5 618.6,1350.9 620.7,1346.5 622.4,1339.3 624.4,1327.6 626.5,1326.2 628.5,1332.0 630.3,1336.4 632.3,1339.3 634.3,1343.6 636.1,1346.5 638.1,1342.2 640.1,1327.6 642.2,1314.5 644.2,1308.7 646.0,1316.0 648.0,1311.6 650.0,1305.8 651.8,1321.8 653.8,1336.4 655.9,1332.0 657.9,1333.5 659.6,1324.7 661.7,1323.3 663.7,1316.0 665.7,1320.4 667.5,1327.6 669.5,1332.0 671.6,1336.4 673.3,1340.7 675.3,1334.9 677.4,1339.3 679.1,1340.7 681.2,1343.6 683.2,1332.0 685.2,1334.9 687.0,1340.7 689.0,1337.8 691.1,1326.2 693.1,1327.6 694.8,1333.5 696.9,1321.8 698.9,1318.9 700.7,1327.6 702.7,1321.8 704.7,1330.5 706.5,1336.4 708.5,1350.9 710.5,1349.5 712.6,1348.0 714.3,1345.1 716.4,1342.2 718.4,1339.3 720.4,1327.6 722.2,1307.3 724.2,1289.8 726.3,1278.8 728.0,1292.7 730.0,1313.1 732.1,1316.0 733.8,1330.5 735.9,1337.8 737.9,1339.3 739.9,1340.7 742.0,1346.5 743.7,1349.5 745.7,1348.0 747.8,1352.4 749.8,1350.9 751.6,1339.3 753.6,1332.0 755.6,1336.4 757.7,1329.1 759.4,1323.3 761.5,1318.9 763.5,1317.5 765.2,1316.0 767.3,1327.6 769.3,1336.4 771.1,1342.2 773.1,1346.5 775.1,1350.9 777.2,1352.4 779.2,1352.4 780.9,1350.9 783.0,1348.0 785.0,1349.5 786.8,1343.6 788.8,1349.5 790.8,1346.5 792.6,1339.3 794.6,1343.6 796.7,1327.6 798.4,1318.9 800.4,1320.4 802.5,1321.8 804.2,1324.7 806.3,1330.5 808.3,1340.7 810.3,1336.4 812.1,1327.6 814.1,1342.2 816.1,1339.3 818.2,1327.6 819.9,1339.3 822.0,1352.4 824.0,1346.5 826.0,1345.1 827.8,1350.9 829.8,1352.4 831.9,1340.7 833.9,1343.6 835.6,1333.5 837.7,1330.5 839.7,1320.4 841.5,1310.2 843.5,1308.7 844.9,1292.7 847.0,1284.0 849.0,1260.7 851.1,1234.5 853.1,1218.5 855.1,1221.5" fill="none" stroke="#cb0c12" stroke-width="1.5" stroke-linejoin="round" stroke-linecap="round"/>
<polyline points="461.5,1321.8 463.6,1333.5 465.6,1334.9 467.6,1342.2 469.7,1336.4 471.4,1340.7 473.5,1343.6 475.5,1334.9 477.2,1337.8 479.3,1333.5 481.3,1336.4 483.3,1329.1 485.4,1332.0 487.4,1326.2 489.5,1327.6 491.5,1321.8 493.5,1326.2 495.6,1323.3 497.3,1313.1 499.3,1327.6 501.1,1321.8 503.1,1312.5 505.2,1336.4 507.2,1343.6 509.2,1346.5 511.0,1343.6 513.0,1355.3 515.1,1346.5 517.1,1348.0 518.8,1342.2 520.9,1355.3 522.9,1346.5 524.7,1342.2 526.7,1348.0 528.7,1343.6 530.5,1340.7 532.5,1339.3 534.5,1340.7 536.6,1334.9 538.3,1330.5 540.4,1329.1 542.4,1329.1 544.1,1323.3 546.2,1332.0 548.2,1333.5 550.3,1329.1 552.3,1316.0 554.0,1305.8 556.1,1303.8 558.1,1302.9 559.9,1308.7 561.9,1330.5 563.9,1336.4 565.7,1340.7 567.7,1342.2 569.7,1339.3 571.5,1343.6 573.5,1345.1 575.6,1339.3 577.6,1343.6 579.3,1342.2 581.4,1345.1 583.4,1348.0 585.5,1350.9 587.2,1348.0 589.2,1352.4 591.3,1350.9 593.0,1346.5 595.1,1345.1 597.1,1350.9 599.1,1353.8 600.9,1355.3 602.9,1355.3 604.9,1356.1 607.0,1355.3 608.7,1358.2 610.8,1360.2 612.8,1359.6 614.5,1355.3 616.6,1353.8 618.6,1353.2 620.7,1346.5 622.4,1324.7 624.4,1326.2 626.5,1315.4 628.5,1323.3 630.3,1334.9 632.3,1340.7 634.3,1342.2 636.1,1339.3 638.1,1333.5 640.1,1321.8 642.2,1301.5 644.2,1292.7 646.0,1278.2 648.0,1316.0 650.0,1321.8 651.8,1326.2 653.8,1329.1 655.9,1333.5 657.9,1332.9 659.6,1332.0 661.7,1330.5 663.7,1329.1 665.7,1326.2 667.5,1321.8 669.5,1323.3 671.6,1326.2 673.3,1324.7 675.3,1329.1 677.4,1323.3 679.1,1330.5 681.2,1332.0 683.2,1329.1 685.2,1336.4 687.0,1337.8 689.0,1330.5 691.1,1327.6 693.1,1332.0 694.8,1334.9 696.9,1320.4 698.9,1316.0 700.7,1318.9 702.7,1310.2 704.7,1316.0 706.5,1308.7 708.5,1348.0 710.5,1350.9 712.6,1350.9 714.3,1349.5 716.4,1346.5 718.4,1342.2 720.4,1337.8 722.2,1321.8 724.2,1298.5 726.3,1288.4 728.0,1283.4 730.0,1307.3 732.1,1307.3 733.8,1327.6 735.9,1336.4 737.9,1340.7 739.9,1340.7 742.0,1339.9 743.7,1340.7 745.7,1339.3 747.8,1343.6 749.8,1346.5 751.6,1342.2 753.6,1336.4 755.6,1340.7 757.7,1333.5 759.4,1316.0 761.5,1307.3 763.5,1298.5 765.2,1297.1 767.3,1321.8 769.3,1333.5 771.1,1343.6 773.1,1350.9 775.1,1355.3 777.2,1358.2 779.2,1356.7 780.9,1353.8 783.0,1350.9 785.0,1345.1 786.8,1333.5 788.8,1317.5 790.8,1318.9 792.6,1320.4 794.6,1324.7 796.7,1323.3 798.4,1316.0 800.4,1292.7 802.5,1276.7 804.2,1278.2 806.3,1321.8 808.3,1334.9 810.3,1333.5 812.1,1330.5 814.1,1339.3 816.1,1343.6 818.2,1339.3 819.9,1343.6 822.0,1349.5 824.0,1346.5 826.0,1349.5 827.8,1346.5 829.8,1352.4 831.9,1348.0 833.9,1346.5 835.6,1336.4 837.7,1327.6 839.7,1321.8 841.5,1310.2 843.5,1289.8 844.9,1273.2 847.0,1292.7 849.0,1263.6 851.1,1190.9 853.1,1141.5 855.1,1113.8" fill="none" stroke="#101010" stroke-width="1.5" stroke-linejoin="round" stroke-linecap="round"/>
<polyline points="856.3,1250.5 858.3,1284.0 860.4,1301.5 862.4,1316.0 864.4,1323.3 866.5,1326.2 868.2,1321.8 870.3,1308.7 872.3,1321.8 874.0,1307.3 876.1,1313.1 878.1,1307.3 880.1,1321.8 881.9,1332.0 883.9,1307.3 886.0,1300.0 888.0,1313.1 889.7,1307.3 891.8,1300.0 893.8,1295.6 895.9,1289.8 897.9,1292.7 899.6,1297.1 901.7,1288.4 903.7,1310.2 905.5,1320.4 907.5,1301.5 909.5,1285.5 911.6,1313.1 913.3,1318.9 915.3,1305.8 917.1,1297.1 919.1,1316.0 921.2,1320.4 923.2,1304.4 924.9,1294.2 927.0,1316.0 929.0,1323.3 931.1,1298.5 932.8,1286.9 934.8,1307.3 936.9,1284.0 938.6,1264.5 940.7,1284.0 942.7,1301.5 944.7,1291.3 946.5,1292.7 948.5,1310.2 950.5,1292.7 952.3,1311.6 954.3,1281.1 956.4,1297.1 958.4,1307.3 960.1,1316.0 962.2,1307.3 964.2,1305.8 966.3,1318.9 968.0,1324.7 970.0,1310.2 972.1,1321.8 974.1,1330.5 975.9,1332.0 977.9,1340.7 979.9,1339.3 982.0,1342.2 983.7,1345.1 985.7,1346.5 987.8,1350.9 989.5,1352.4 991.6,1356.1 993.6,1354.4 995.6,1359.6 997.4,1364.0 999.4,1356.7 1001.5,1359.6 1003.5,1364.0 1005.2,1361.1 1007.3,1358.2 1009.3,1361.1 1011.1,1362.5 1013.1,1350.9 1015.1,1336.4 1017.2,1324.7 1018.9,1313.1 1020.9,1305.8 1023.0,1318.9 1024.7,1327.6 1026.8,1336.4 1028.8,1333.5 1030.8,1330.5 1032.6,1333.5 1034.6,1326.2 1036.7,1313.1 1038.7,1292.7 1040.1,1289.8 1042.2,1307.3 1044.2,1316.0 1046.0,1324.7 1048.0,1323.3 1050.0,1323.3 1051.8,1320.4 1053.8,1316.0 1055.9,1307.3 1057.9,1302.9 1059.6,1300.0 1061.7,1307.3 1063.7,1305.8 1065.7,1311.6 1067.5,1320.4 1069.5,1311.6 1071.6,1316.0 1073.3,1318.9 1075.3,1313.1 1077.4,1308.7 1079.1,1310.2 1081.2,1314.5 1083.2,1307.3 1085.2,1298.5 1087.0,1297.1 1089.0,1300.0 1091.1,1281.1 1092.5,1269.5 1094.5,1282.5 1096.6,1220.0 1098.3,1263.6 1100.4,1301.5 1102.4,1336.4 1104.4,1346.5 1106.5,1333.5 1108.2,1342.2 1110.3,1346.5 1112.3,1348.0 1114.3,1339.3 1116.1,1330.5 1118.1,1321.8 1120.1,1316.0 1122.2,1300.0 1124.2,1310.2 1126.0,1318.9 1128.0,1324.7 1130.0,1326.2 1132.1,1330.5 1133.8,1333.5 1135.9,1336.4 1137.9,1339.3 1139.9,1333.5 1142.0,1329.1 1143.7,1346.5 1145.7,1348.0 1147.8,1356.7 1149.8,1355.3 1151.6,1346.5 1153.6,1321.8 1155.6,1320.4 1157.7,1317.5 1159.4,1321.8 1161.5,1339.3 1163.5,1350.9 1165.2,1353.8 1167.3,1352.4 1169.3,1350.9 1171.1,1352.4 1173.1,1350.9 1175.1,1342.2 1177.2,1333.5 1179.2,1321.8 1180.9,1305.8 1183.0,1321.8 1185.0,1332.0 1186.8,1316.0 1188.8,1317.5 1190.8,1301.5 1192.6,1291.3 1194.6,1292.7 1196.7,1289.8 1198.4,1291.3 1200.4,1292.7 1202.5,1307.3 1204.2,1313.1 1206.3,1304.4 1208.3,1316.0 1210.3,1320.4 1212.1,1313.1 1214.1,1318.9 1216.1,1324.7 1218.2,1334.9 1219.9,1332.0 1222.0,1330.5 1224.0,1342.2 1226.0,1350.9 1227.8,1343.6 1229.8,1329.1 1231.9,1342.2 1233.9,1339.3 1235.6,1323.3 1237.7,1313.1 1239.7,1301.5 1241.5,1289.8 1243.5,1275.3 1245.5,1272.4 1247.3,1222.9 1249.0,1182.2 1250.2,1156.0" fill="none" stroke="#cb0c12" stroke-width="1.5" stroke-linejoin="round" stroke-linecap="round"/>
<polyline points="856.3,1284.0 858.3,1305.8 860.4,1313.1 862.4,1323.3 864.4,1332.0 866.5,1326.2 868.2,1330.5 870.3,1320.4 872.3,1323.3 874.0,1308.7 876.1,1318.9 878.1,1304.4 880.1,1313.1 881.9,1320.4 883.9,1307.3 886.0,1302.9 888.0,1318.9 889.7,1305.8 891.8,1304.9 893.8,1307.3 895.9,1308.7 897.9,1313.1 899.6,1323.3 901.7,1326.2 903.7,1320.4 905.5,1321.8 907.5,1330.0 909.5,1323.3 911.6,1316.0 913.3,1324.7 915.3,1336.4 917.1,1327.6 919.1,1320.4 921.2,1329.1 923.2,1323.3 924.9,1316.0 927.0,1321.8 929.0,1314.5 931.1,1308.7 932.8,1307.3 934.8,1313.1 936.9,1304.4 938.6,1295.6 940.7,1305.8 942.7,1307.3 944.7,1292.7 946.5,1300.0 948.5,1291.3 950.5,1307.3 952.3,1275.3 954.3,1284.0 956.4,1298.5 958.4,1316.0 960.1,1324.7 962.2,1327.6 964.2,1327.6 966.3,1330.5 968.0,1332.0 970.0,1333.5 972.1,1334.9 974.1,1330.5 975.9,1336.4 977.9,1334.9 979.9,1336.4 982.0,1333.5 983.7,1336.4 985.7,1339.3 987.8,1340.7 989.5,1343.6 991.6,1346.5 993.6,1349.5 995.6,1353.8 997.4,1350.9 999.4,1352.4 1001.5,1356.7 1003.5,1355.3 1005.2,1356.7 1007.3,1352.4 1009.3,1356.7 1011.1,1359.6 1013.1,1348.0 1015.1,1333.5 1017.2,1318.9 1018.9,1307.3 1020.9,1297.1 1023.0,1313.1 1024.7,1327.6 1026.8,1336.4 1028.8,1334.9 1030.8,1334.9 1032.6,1330.5 1034.6,1321.8 1036.7,1310.2 1038.7,1297.1 1040.1,1285.5 1042.2,1301.5 1044.2,1320.4 1046.0,1336.4 1048.0,1321.8 1050.0,1318.9 1051.8,1323.3 1053.8,1345.1 1055.9,1330.5 1057.9,1320.4 1059.6,1330.5 1061.7,1339.3 1063.7,1333.5 1065.7,1330.5 1067.5,1329.1 1069.5,1332.0 1071.6,1336.4 1073.3,1340.7 1075.3,1343.6 1077.4,1339.3 1079.1,1342.2 1081.2,1348.6 1083.2,1339.3 1085.2,1345.1 1087.0,1337.8 1089.0,1342.2 1091.1,1313.1 1092.5,1308.7 1094.5,1333.5 1096.6,1340.7 1098.3,1342.2 1100.4,1339.3 1102.4,1343.6 1104.4,1352.4 1106.5,1350.9 1108.2,1350.3 1110.3,1350.9 1112.3,1349.5 1114.3,1336.4 1116.1,1327.6 1118.1,1298.5 1120.1,1288.4 1122.2,1278.2 1124.2,1301.5 1126.0,1313.1 1128.0,1339.3 1130.0,1343.6 1132.1,1346.5 1133.8,1346.5 1135.9,1345.1 1137.9,1346.5 1139.9,1343.6 1142.0,1339.3 1143.7,1343.6 1145.7,1348.0 1147.8,1350.9 1149.8,1349.5 1151.6,1342.2 1153.6,1320.4 1155.6,1317.5 1157.7,1318.9 1159.4,1321.8 1161.5,1336.4 1163.5,1348.0 1165.2,1350.9 1167.3,1352.4 1169.3,1353.8 1171.1,1355.3 1173.1,1354.7 1175.1,1352.4 1177.2,1348.0 1179.2,1339.3 1180.9,1327.6 1183.0,1323.3 1185.0,1326.2 1186.8,1323.3 1188.8,1320.4 1190.8,1313.1 1192.6,1316.0 1194.6,1330.5 1196.7,1317.5 1198.4,1327.6 1200.4,1334.9 1202.5,1336.4 1204.2,1339.3 1206.3,1340.7 1208.3,1345.1 1210.3,1346.5 1212.1,1345.1 1214.1,1348.0 1216.1,1349.5 1218.2,1345.1 1219.9,1343.6 1222.0,1342.2 1224.0,1352.4 1226.0,1346.5 1227.8,1343.6 1229.8,1330.5 1231.9,1336.4 1233.9,1333.5 1235.6,1321.8 1237.7,1307.3 1239.7,1292.7 1241.5,1269.5 1243.5,1237.5 1245.5,1241.8 1247.3,1190.9 1249.0,1153.1 1250.2,1135.6" fill="none" stroke="#101010" stroke-width="1.5" stroke-linejoin="round" stroke-linecap="round"/>
<polyline points="1250.4,1306.5 1252.3,1313.4 1254.3,1321.6 1256.2,1324.4 1258.1,1331.3 1260.0,1339.5 1262.0,1336.8 1263.9,1324.4 1266.1,1336.8 1268.0,1335.4 1270.0,1329.9 1271.9,1335.4 1273.8,1336.8 1275.7,1340.4 1277.7,1332.7 1279.6,1324.4 1281.5,1313.4 1283.4,1307.9 1285.4,1313.4 1287.3,1314.8 1289.2,1306.5 1290.6,1301.0 1292.5,1310.6 1294.5,1328.5 1296.4,1321.6 1298.3,1343.7 1300.2,1349.2 1302.2,1347.8 1304.1,1340.9 1306.0,1343.7 1308.0,1346.4 1309.9,1349.2 1311.8,1346.4 1313.7,1345.0 1315.7,1343.7 1317.6,1338.2 1319.5,1335.4 1321.5,1336.8 1323.4,1332.7 1325.3,1325.8 1327.2,1323.0 1329.2,1320.3 1331.1,1307.9 1333.0,1288.6 1334.9,1287.2 1336.9,1306.5 1338.8,1285.8 1339.9,1269.3 1341.8,1277.6 1343.5,1302.4 1345.4,1252.8 1347.3,1250.9 1349.3,1280.3 1351.2,1323.0 1353.1,1307.9 1355.1,1324.4 1357.0,1325.8 1358.9,1317.5 1360.8,1325.8 1362.8,1336.8 1364.7,1329.9 1366.6,1332.7 1368.5,1338.2 1370.5,1335.4 1372.4,1339.5 1374.3,1342.3 1376.3,1340.9 1378.2,1343.7 1380.1,1345.0 1382.0,1342.3 1384.0,1340.9 1385.9,1347.8 1387.8,1351.9 1389.8,1349.2 1391.7,1350.6 1393.6,1356.1 1395.5,1354.7 1397.5,1356.1 1399.4,1357.4 1401.3,1357.4 1403.2,1356.1 1405.2,1354.7 1407.1,1354.7 1409.0,1351.9 1411.0,1346.4 1412.9,1335.4 1414.8,1327.1 1416.2,1323.0 1418.1,1332.7 1420.0,1335.4 1422.0,1345.0 1423.9,1340.9 1425.8,1332.7 1427.8,1321.6 1429.7,1323.0 1431.6,1317.5 1433.5,1313.4 1435.5,1302.4 1437.4,1306.5 1439.3,1305.1 1441.3,1318.9 1443.2,1316.1 1445.1,1325.8 1447.0,1324.4 1449.0,1331.3 1450.9,1318.9 1452.8,1310.6 1454.8,1312.0 1456.7,1314.8 1458.6,1318.9 1460.5,1324.4 1462.5,1329.9 1464.4,1324.4 1466.3,1325.8 1468.2,1331.3 1470.2,1327.1 1472.1,1318.9 1474.0,1316.1 1476.0,1328.5 1477.9,1318.9 1479.8,1310.6 1481.7,1312.0 1483.7,1316.1 1485.6,1305.1 1487.5,1294.1 1489.5,1299.6 1491.4,1331.3 1493.3,1334.0 1495.2,1343.7 1497.2,1356.1 1499.1,1358.3 1501.0,1354.7 1502.9,1346.4 1504.9,1345.0 1506.8,1340.9 1508.7,1334.0 1510.7,1321.6 1512.6,1302.4 1514.5,1291.3 1516.4,1290.0 1518.4,1299.6 1520.3,1314.8 1522.2,1324.4 1524.2,1325.8 1526.1,1321.6 1528.0,1324.4 1529.9,1335.4 1531.9,1342.3 1533.8,1347.8 1535.7,1350.6 1537.6,1354.7 1539.6,1349.2 1541.5,1342.3 1543.4,1338.2 1545.4,1335.4 1547.3,1324.4 1549.2,1313.4 1551.1,1306.5 1553.1,1304.6 1555.0,1309.2 1556.9,1324.4 1558.9,1338.2 1560.8,1349.2 1562.7,1354.7 1564.6,1357.4 1566.6,1358.8 1568.5,1356.1 1570.4,1353.3 1572.3,1347.8 1574.3,1338.2 1576.2,1324.4 1578.1,1313.4 1580.1,1324.4 1582.0,1346.4 1583.9,1332.7 1585.8,1317.5 1587.8,1321.6 1589.7,1328.5 1591.6,1316.1 1593.6,1305.1 1595.5,1303.7 1597.4,1316.1 1599.3,1327.1 1601.3,1335.4 1603.2,1343.7 1605.1,1342.3 1607.1,1336.8 1609.0,1340.9 1610.9,1346.4 1612.8,1349.2 1614.8,1345.0 1616.7,1347.8 1618.6,1350.6 1620.5,1347.8 1622.5,1345.0 1624.4,1340.9 1626.3,1343.7 1628.3,1346.4 1630.2,1343.7 1632.1,1339.5 1634.0,1340.9 1636.0,1338.2 1637.9,1307.9 1639.8,1252.8 1641.8,1214.2 1643.7,1189.4 1645.3,1177.0" fill="none" stroke="#cb0c12" stroke-width="1.5" stroke-linejoin="round" stroke-linecap="round"/>
<polyline points="1250.4,1305.1 1252.3,1317.5 1254.3,1328.5 1256.2,1331.3 1258.1,1334.0 1260.0,1325.8 1262.0,1323.0 1263.9,1321.6 1266.1,1312.0 1268.0,1307.9 1270.0,1299.6 1271.9,1302.4 1273.3,1293.5 1275.2,1296.8 1277.1,1306.5 1279.0,1294.1 1281.0,1283.6 1282.9,1299.6 1284.8,1306.5 1286.8,1302.4 1288.7,1299.6 1290.6,1281.2 1292.5,1292.7 1294.5,1318.9 1296.4,1314.8 1298.3,1324.4 1300.2,1335.4 1302.2,1338.2 1304.1,1333.5 1306.0,1340.9 1308.0,1345.0 1309.9,1350.6 1311.8,1351.9 1313.7,1352.5 1315.7,1358.8 1317.6,1351.9 1319.5,1348.6 1321.5,1353.3 1323.4,1349.2 1325.3,1342.3 1327.2,1345.0 1329.2,1343.7 1331.1,1335.4 1333.0,1324.4 1334.9,1328.5 1336.9,1340.9 1338.8,1335.4 1340.7,1338.2 1342.7,1342.3 1344.6,1339.5 1346.5,1335.4 1349.5,1326.6 1351.5,1335.4 1353.4,1340.9 1355.3,1342.3 1357.3,1347.8 1359.2,1351.9 1361.1,1353.3 1363.0,1351.9 1365.0,1354.7 1366.9,1356.1 1368.8,1354.7 1370.8,1358.8 1372.7,1361.6 1374.6,1356.1 1376.5,1360.2 1378.5,1362.4 1380.4,1363.5 1382.3,1362.9 1384.2,1360.2 1386.2,1356.1 1388.1,1360.2 1390.0,1362.4 1392.0,1358.8 1393.9,1351.9 1395.8,1350.6 1397.7,1349.2 1399.7,1345.0 1401.6,1339.5 1403.5,1332.7 1405.5,1329.9 1407.4,1331.3 1409.3,1324.4 1411.2,1317.5 1413.2,1302.4 1415.6,1287.2 1417.6,1299.6 1419.5,1313.4 1421.4,1325.8 1423.4,1326.6 1425.3,1316.1 1427.2,1321.6 1429.1,1314.8 1431.1,1312.0 1433.0,1310.6 1434.9,1309.2 1436.8,1312.0 1438.8,1317.5 1440.7,1323.0 1442.6,1321.6 1444.6,1324.4 1446.5,1314.8 1448.4,1327.1 1450.3,1321.6 1452.3,1314.8 1454.2,1312.0 1456.1,1314.8 1458.1,1310.6 1460.0,1316.1 1461.9,1312.8 1463.8,1320.3 1465.8,1316.1 1467.7,1331.3 1469.6,1328.5 1471.6,1324.4 1473.5,1327.1 1475.4,1325.8 1477.3,1325.8 1479.3,1321.6 1481.2,1320.3 1483.1,1317.5 1485.0,1313.4 1487.0,1302.4 1488.4,1299.6 1490.0,1280.3 1491.9,1332.7 1493.9,1317.5 1495.8,1347.8 1497.7,1354.7 1499.6,1343.7 1501.6,1338.7 1503.5,1340.9 1505.4,1345.0 1507.4,1349.2 1509.3,1350.6 1511.2,1335.4 1513.1,1307.9 1515.1,1280.3 1517.0,1277.6 1518.1,1275.6 1520.0,1307.9 1521.9,1334.0 1523.9,1342.3 1525.8,1339.5 1527.7,1338.2 1529.7,1340.9 1531.6,1347.8 1533.5,1351.9 1535.4,1349.2 1537.4,1362.4 1539.3,1360.2 1541.2,1351.9 1543.2,1346.4 1545.1,1351.9 1547.0,1342.3 1548.9,1335.4 1550.9,1325.8 1552.8,1324.4 1554.7,1324.4 1556.7,1346.4 1558.6,1353.3 1560.5,1354.1 1562.4,1356.1 1564.4,1351.9 1566.3,1347.8 1568.2,1342.3 1570.1,1347.8 1572.1,1350.6 1574.0,1353.3 1575.9,1335.4 1577.9,1316.1 1579.8,1335.4 1581.7,1346.4 1583.6,1324.4 1585.6,1304.6 1587.5,1318.9 1589.4,1331.3 1591.4,1318.9 1593.3,1309.2 1595.2,1307.9 1597.1,1317.5 1599.1,1325.8 1601.0,1313.4 1602.9,1317.5 1604.8,1327.1 1606.8,1307.9 1608.2,1299.1 1610.1,1299.6 1612.0,1312.0 1613.9,1320.3 1615.9,1317.5 1617.8,1321.6 1619.7,1331.3 1621.6,1336.8 1623.6,1340.9 1625.5,1338.2 1627.4,1340.9 1629.4,1338.2 1631.3,1316.1 1633.2,1314.8 1635.1,1338.2 1637.1,1335.4 1639.0,1280.3 1640.9,1252.8 1642.9,1230.8 1645.3,1208.7" fill="none" stroke="#101010" stroke-width="1.5" stroke-linejoin="round" stroke-linecap="round"/>
<polyline points="63.7,623.3 65.0,615.0 67.8,635.8 70.2,625.0 72.5,628.3 74.8,620.8 77.2,625.0 79.5,599.2 81.8,610.0 84.5,571.7 86.8,534.2 89.2,573.3 91.5,595.8 93.8,600.8 96.2,606.7 98.5,589.2 100.8,623.3 103.2,624.2 105.5,631.7 107.8,621.7 110.2,636.7 112.5,620.0 114.8,628.3 117.2,598.3 119.5,605.0 121.8,604.2 124.2,595.0 126.5,621.7 128.8,610.8 131.2,632.5 133.5,612.5 135.8,634.2 138.2,606.7 140.5,633.3 142.8,616.7 145.2,616.7 147.5,606.7 149.8,596.7 152.2,585.8 154.5,582.5 156.8,548.3 159.2,569.2 161.5,565.8 163.8,605.0 166.2,611.7 168.5,620.0 170.8,616.7 173.2,634.2 175.5,621.7 177.8,638.3 180.2,619.2 182.5,613.3 184.8,625.0 187.2,608.3 189.5,586.7 191.8,564.2 193.8,554.2 196.2,606.7 198.5,608.3 200.8,578.3 203.2,590.8 205.5,623.3 207.8,628.3 210.2,626.7 212.5,636.7 214.8,622.5 217.2,606.7 219.5,603.3 221.3,536.7 224.2,570.0 226.5,564.2 228.8,557.5 231.2,613.3 233.5,587.5 235.8,556.7 238.2,543.3 240.3,517.5 242.7,546.7 245.0,529.2 247.3,568.3 249.7,600.0 252.0,628.3 254.3,622.5 256.7,628.3 259.0,635.8 261.3,621.7 263.7,613.3 266.0,590.8 268.3,604.2 270.7,582.5 273.0,593.3 275.3,565.8 277.7,530.0 280.0,523.3 282.3,586.7 284.7,585.8 287.0,613.3 289.3,619.2 291.7,608.3 294.0,616.7 296.3,625.0 298.7,578.3 301.0,620.8 303.3,619.2 305.7,608.3 308.0,620.0 310.3,628.3 312.7,630.0 315.0,620.0 317.3,605.8 319.7,588.3 322.0,580.8 324.3,618.3 326.7,630.8 329.0,630.0 331.3,633.3 333.7,628.3 335.0,631.7" fill="none" stroke="#cb0c12" stroke-width="1.35" stroke-linejoin="round" stroke-linecap="round"/>
<polyline points="63.7,621.7 65.0,610.8 66.3,611.3 67.8,635.0 70.2,619.2 72.5,636.7 74.8,621.7 77.2,630.8 79.5,609.2 81.8,615.8 84.5,572.5 86.8,586.7 89.2,581.7 91.5,606.7 93.8,623.3 96.2,630.0 98.5,607.5 100.8,633.3 103.2,610.0 105.5,626.7 107.8,600.0 110.2,631.7 112.5,616.7 114.8,629.2 117.2,589.2 119.5,602.5 121.8,593.3 124.2,584.2 126.5,615.8 128.8,603.3 131.2,633.3 133.5,610.0 135.8,625.0 138.2,594.2 140.5,630.8 142.8,615.0 145.2,620.8 147.5,619.2 149.8,620.0 152.2,593.3 154.5,593.3 156.8,557.5 159.2,598.3 161.5,585.0 163.8,622.5 166.2,627.5 168.5,626.7 170.8,603.3 173.2,644.2 175.5,628.3 177.8,644.2 180.2,634.2 182.5,625.0 184.8,636.7 187.2,629.2 189.5,628.3 191.8,613.3 193.8,587.5 196.2,623.3 198.5,624.2 200.8,594.2 203.2,593.3 205.5,626.7 207.8,631.7 210.2,633.3 212.5,639.2 214.8,623.3 217.2,608.3 219.5,605.0 221.3,550.0 224.2,587.5 226.5,577.5 228.8,590.8 231.2,630.8 233.5,590.0 235.8,553.3 238.2,513.3 240.3,484.2 242.7,572.5 245.0,578.3 247.3,600.0 249.7,629.2 252.0,636.7 254.3,622.5 256.7,625.0 259.0,639.2 261.3,627.5 263.7,627.5 266.0,627.5 268.3,616.7 270.7,592.5 273.0,616.7 275.3,599.2 277.7,589.2 280.0,581.3 282.3,618.3 284.7,605.8 287.0,623.3 289.3,606.7 291.7,590.8 294.0,604.2 296.3,606.7 298.7,600.0 301.0,624.2 303.3,622.5 305.7,620.0 308.0,630.0 310.3,632.5 312.7,630.0 315.0,623.3 317.3,615.8 319.7,594.2 322.0,597.5 324.3,625.8 326.7,633.3 329.0,621.7 331.3,640.0 333.7,636.7 335.0,638.3" fill="none" stroke="#101010" stroke-width="1.35" stroke-linejoin="round" stroke-linecap="round"/>
<polyline points="335.0,629.8 337.1,634.7 339.9,631.8 342.7,628.8 345.1,636.7 347.8,607.0 350.2,599.0 352.6,620.9 355.0,611.9 357.4,610.0 359.7,606.0 362.1,587.2 364.5,563.4 366.9,525.7 369.3,488.0 370.8,456.3 373.2,444.4 375.6,373.0 378.0,499.9 380.4,511.8 382.3,443.4 384.7,497.9 387.1,570.3 389.5,553.4 391.9,601.0 393.4,623.8 395.8,620.9 399.0,609.0 401.4,626.8 403.8,632.8 406.1,635.7 408.5,636.7 410.9,630.8 413.3,633.7 415.7,634.7 418.0,626.8 420.2,625.8 422.2,603.0 424.6,642.7 427.2,640.7" fill="none" stroke="#cb0c12" stroke-width="1.35" stroke-linejoin="round" stroke-linecap="round"/>
<polyline points="428.5,618.9 430.7,612.9 433.1,636.7 435.5,619.9 437.9,628.8 440.2,634.7 442.6,624.8 445.0,617.9 447.4,626.8 449.0,584.2 451.3,590.1 453.7,597.1 456.1,614.9 458.5,618.9 460.9,626.8 463.2,612.9 465.6,631.8 468.0,609.0 470.4,632.8 472.8,622.8 475.1,635.7 477.5,621.8 479.9,632.8 482.3,601.0 484.7,603.0 487.0,606.0 489.0,573.3 491.4,612.9 493.8,606.0 496.2,635.7 498.5,609.0 500.9,628.8 503.3,623.8 505.7,631.8 508.0,612.9 510.4,621.8 512.8,614.9 515.2,600.0 517.6,598.1 519.3,605.0 521.3,573.3 523.7,605.0 526.1,591.1 528.5,626.8 530.8,630.8 533.2,638.7 535.6,634.7 538.0,643.7 540.4,640.7 542.7,644.6 545.1,630.8 547.5,628.8 549.9,635.7 552.3,632.8 554.6,628.8 556.6,620.9 558.6,610.9 561.0,627.8 563.4,630.8 565.7,616.9 568.1,630.8 570.5,634.7 572.9,637.7 575.3,636.7 577.6,643.7 580.0,636.7 582.4,630.8 584.8,620.9 587.0,611.9 589.3,616.9" fill="none" stroke="#cb0c12" stroke-width="1.35" stroke-linejoin="round" stroke-linecap="round"/>
<polyline points="335.0,636.7 337.1,639.7 339.9,637.7 342.7,627.8 345.1,632.8 347.8,596.1 350.2,593.1 352.6,606.0 353.8,627.8 356.4,586.2 358.9,589.1 361.3,600.0 363.7,583.2 366.1,571.3 368.5,535.6 370.8,495.0 373.2,531.6 375.6,518.7 378.0,596.1 380.4,563.4 382.7,579.2 385.1,622.8 387.5,632.8 389.9,612.9 392.3,622.8 394.6,621.8 397.0,601.0 399.0,588.1 401.4,626.8 403.8,633.7 406.1,636.7 408.5,639.7 410.9,635.7 413.3,637.7 415.7,632.8 418.0,621.8 420.2,615.9 422.2,590.1 424.6,645.6 427.2,641.7" fill="none" stroke="#101010" stroke-width="1.35" stroke-linejoin="round" stroke-linecap="round"/>
<polyline points="428.5,611.9 430.7,610.0 433.1,634.7 435.5,622.8 437.9,638.7 440.2,620.9 442.6,616.9 445.0,581.2 447.4,549.5 449.8,511.8 451.7,485.0 454.1,481.1 456.5,501.9 458.9,486.0 461.3,531.6 463.6,542.5 466.0,605.0 468.4,611.9 470.8,632.8 472.8,605.0 475.1,633.7 477.5,616.9 479.9,631.8 482.3,594.1 484.7,596.1 487.0,595.1 489.0,553.4 491.4,618.9 493.8,610.9 496.2,633.7 498.5,615.9 500.9,630.8 503.3,609.0 505.7,632.8 508.0,603.0 510.4,594.1 512.8,590.1 515.2,573.3 517.2,557.4 519.3,579.2 521.3,552.5 523.7,602.0 526.1,587.2 528.5,627.8 530.8,617.9 533.2,632.8 535.6,636.7 538.0,645.6 540.4,636.7 542.7,640.7 545.1,626.8 547.5,625.8 549.9,634.7 552.3,628.8 554.6,622.8 556.6,599.0 558.6,581.2 561.0,620.9 563.4,623.8 565.7,597.1 568.1,612.9 570.5,607.0 572.9,602.0 575.3,601.0 577.6,626.8 580.0,582.2 582.4,607.0 584.8,579.2 587.0,573.3 589.3,588.1" fill="none" stroke="#101010" stroke-width="1.35" stroke-linejoin="round" stroke-linecap="round"/>
<polyline points="590.0,617.7 591.5,615.4 593.8,601.5 596.2,639.2 598.5,635.4 600.8,616.9 603.1,563.1 605.1,531.5 607.4,579.2 609.7,574.6 612.0,606.2 614.3,632.3 616.2,635.4 617.4,640.0 619.2,630.0 620.8,638.5 622.8,640.8 624.6,641.5 626.6,626.2 628.5,620.0 630.8,625.4 633.1,623.8 635.4,618.5 637.7,607.7 640.0,580.0 642.3,558.5 644.8,553.1 646.9,600.0 649.2,605.4 651.5,622.3 653.8,626.2 656.2,623.1 658.5,612.3 660.8,593.8 663.1,593.1 665.4,627.7 667.7,623.1 670.0,624.6 672.3,634.6 674.6,636.9 676.9,634.6 679.2,622.3 681.5,616.2 683.8,594.6 686.2,598.5 688.5,626.9 690.8,635.4 693.1,631.5 695.4,637.7 697.7,633.8 700.0,639.2 702.3,642.3 704.6,641.5 707.7,632.3 710.0,643.1 712.3,619.2 714.6,606.2 716.9,627.7 719.2,630.0 721.5,604.6 723.8,607.7 726.2,580.0 728.5,532.3 730.8,474.6 733.1,480.8 735.7,509.2 738.0,523.8 740.3,563.1 742.6,597.7 744.9,584.6 747.2,552.3 749.5,587.7 751.8,623.1 754.2,613.8 756.5,633.8 758.8,630.0 761.1,628.5 763.8,616.9 766.2,628.5 768.5,632.3 770.8,636.9 773.1,638.5 775.4,635.4 777.7,635.4 780.0,633.8 782.3,621.5 784.6,617.7 786.9,588.5 789.5,646.2 791.5,644.6" fill="none" stroke="#cb0c12" stroke-width="1.35" stroke-linejoin="round" stroke-linecap="round"/>
<polyline points="590.0,592.3 591.5,598.5 593.8,599.2 596.2,633.8 598.5,630.8 600.8,620.0 603.1,600.0 605.1,558.5 607.4,602.3 609.7,587.7 612.0,610.8 614.3,632.3 616.2,636.2 617.4,630.8 619.2,626.9 620.8,638.5 622.8,640.8 624.6,633.8 626.6,623.8 628.5,632.3 630.8,630.8 633.1,623.1 635.4,610.0 637.7,606.2 640.0,573.8 642.3,535.4 644.8,505.8 646.9,570.8 649.2,595.4 651.5,623.1 653.8,626.9 656.2,623.8 658.5,616.9 660.8,630.8 663.1,594.6 665.4,635.4 667.7,626.2 670.0,619.2 672.3,631.5 674.6,632.3 676.9,624.6 679.2,623.8 681.5,618.5 683.8,602.3 686.2,602.3 688.5,628.5 690.8,631.5 693.1,628.5 695.4,638.5 697.7,634.6 700.0,639.2 702.3,641.5 704.6,640.8 707.7,623.8 710.0,641.5 712.3,619.2 714.6,618.5 716.9,628.5 719.2,627.7 721.5,610.8 723.8,623.1 726.2,623.1 728.5,602.3 730.8,595.4 733.1,583.8 735.7,546.6 738.0,559.2 740.3,596.9 742.6,616.9 744.9,599.2 746.6,596.9 748.5,622.3 750.8,626.9 753.1,618.5 755.4,630.0 757.7,628.5 760.0,626.9 761.5,623.1 763.8,604.6 766.2,626.2 768.5,632.3 770.8,636.9 773.1,639.2 775.4,628.5 777.7,636.2 780.0,635.4 782.3,630.0 784.6,623.1 787.2,600.8 789.5,643.8 791.5,644.6" fill="none" stroke="#101010" stroke-width="1.35" stroke-linejoin="round" stroke-linecap="round"/>
<polyline points="863.4,268.5 865.8,298.5 867.7,285.4 870.8,309.2 873.2,295.4 875.7,322.3 878.2,312.3 880.8,309.2 883.1,276.2 885.5,313.1 888.0,280.8 890.5,248.5 892.9,232.3 895.4,240.8 897.8,250.0 900.3,247.7 903.5,225.7 905.5,273.1 908.0,277.7 910.8,313.1 913.2,260.0 915.7,306.9 918.2,300.8 920.8,313.1 923.2,260.8 925.7,252.3 928.2,220.8 930.8,240.8 933.2,246.9 935.7,297.7 938.2,305.4 940.6,295.4 943.1,303.8 945.7,291.5 948.2,276.5 950.6,302.3 953.1,295.4 955.5,297.7 958.0,293.1 960.5,277.7 963.4,257.2 965.8,276.2 968.3,276.5 970.8,290.0 973.5,325.4 976.0,297.7 978.5,340.0 980.9,331.5 983.4,340.0 985.8,311.5 988.6,300.0 991.1,322.3 993.5,288.5 996.0,242.3 998.5,186.9 1000.9,188.2 1003.4,215.4 1005.8,173.1 1008.8,161.5 1011.2,226.9 1013.7,288.5 1015.4,319.2 1018.5,323.8 1021.2,337.7 1023.7,326.9 1026.2,317.7 1028.6,310.0 1031.1,275.4 1033.5,304.6 1036.0,302.3 1039.2,294.6 1041.5,334.6 1044.0,322.3 1046.5,313.1 1048.9,273.1 1051.4,193.8 1053.8,242.3 1056.6,172.3 1059.1,242.3 1061.5,303.8" fill="none" stroke="#101010" stroke-width="1.35" stroke-linejoin="round" stroke-linecap="round"/>
<polyline points="863.4,288.5 865.8,323.8 868.3,260.0 870.8,333.8 873.2,322.3 875.7,331.5 878.2,324.6 880.8,328.5 883.2,247.2 885.7,330.0 888.2,300.8 890.6,293.1 893.1,283.8 895.5,320.0 898.0,316.9 900.5,326.9 903.5,310.0 905.5,333.1 908.0,317.7 910.8,333.8 913.2,288.5 915.7,329.2 918.2,321.5 920.8,324.6 923.2,270.0 925.7,296.2 928.2,277.7 930.8,253.1 933.2,254.6 935.7,318.5 938.2,322.3 940.6,316.2 943.1,326.9 945.7,334.6 948.2,316.9 950.6,326.9 953.1,327.7 955.5,331.5 958.0,306.9 960.5,318.5 963.4,294.6 965.8,306.9 968.3,310.0 970.8,316.2 973.5,333.8 976.0,302.3 978.5,343.8 980.9,333.8 983.4,342.3 986.2,311.5 988.6,293.8 991.1,316.2 993.5,246.2 996.0,255.4 998.5,225.4 1000.9,248.5 1003.4,274.6 1005.8,270.8 1008.8,263.1 1011.2,296.2 1013.7,321.5 1016.2,313.1 1018.6,309.2 1021.2,325.4 1023.7,263.8 1026.2,267.7 1028.6,203.8 1031.1,190.3 1033.5,226.9 1036.0,248.5 1039.2,273.1 1041.5,336.9 1044.0,319.2 1046.5,297.7 1048.9,260.8 1051.4,237.7 1053.8,286.9 1056.6,215.4 1059.1,257.7 1061.5,305.4" fill="none" stroke="#cb0c12" stroke-width="1.35" stroke-linejoin="round" stroke-linecap="round"/>
<polyline points="1061.5,303.8 1063.8,336.9 1066.3,310.0 1068.8,308.5 1071.2,336.2 1073.7,308.5 1075.4,305.4 1078.5,293.8 1080.8,294.6 1083.8,276.9 1086.2,282.3 1088.5,266.9 1091.5,216.2 1093.8,248.5 1096.3,285.4 1098.8,290.8 1101.5,312.3 1104.0,252.3 1106.5,273.1 1109.2,208.2 1111.7,249.2 1114.2,253.8 1116.6,285.4 1119.1,279.2 1121.5,282.3 1124.0,291.5 1126.5,288.5 1129.2,295.4 1131.7,282.3 1134.2,280.8 1136.9,207.7 1139.2,216.2 1141.7,280.8 1144.2,311.5 1146.6,289.2 1149.1,320.8 1151.5,323.8 1154.3,342.3 1156.8,326.2 1159.2,323.8 1161.7,317.7 1164.2,328.5 1166.6,318.5 1169.1,325.4 1171.5,313.1 1174.0,308.5 1176.5,216.2 1179.2,204.2 1181.7,234.6 1184.3,160.0 1186.8,211.5 1189.2,239.2 1191.7,260.8 1194.2,273.1 1196.6,293.1 1199.4,319.2 1201.8,289.2 1204.3,303.8 1206.8,326.9 1209.2,323.8 1212.0,301.5 1214.5,323.1 1216.9,319.2 1219.4,320.0 1221.8,300.0 1224.3,311.5 1226.8,336.2 1229.2,323.8 1231.7,339.2 1234.2,333.1 1236.6,323.8 1239.2,316.9 1242.3,271.5 1245.1,265.1 1246.9,342.3" fill="none" stroke="#101010" stroke-width="1.35" stroke-linejoin="round" stroke-linecap="round"/>
<polyline points="1061.5,305.4 1063.8,323.8 1066.3,296.2 1068.8,318.5 1071.2,319.2 1073.7,298.5 1076.2,308.5 1078.5,300.0 1080.8,297.7 1083.8,285.4 1086.9,295.4 1089.2,257.7 1091.5,163.5 1094.2,226.9 1096.6,286.9 1099.1,307.7 1101.5,310.8 1104.0,204.2 1106.5,288.5 1109.2,253.8 1111.7,295.4 1114.2,276.2 1116.6,306.9 1119.1,308.5 1121.5,285.4 1124.0,294.6 1126.5,292.3 1128.9,311.5 1131.4,283.8 1134.2,253.1 1136.6,194.3 1139.2,209.2 1141.7,282.3 1144.2,301.5 1146.6,309.2 1149.1,327.7 1151.5,313.8 1154.3,332.3 1156.8,330.8 1159.2,333.1 1161.7,322.3 1164.2,333.8 1166.6,302.3 1169.1,316.9 1171.5,310.8 1174.6,330.0 1176.9,276.2 1179.4,263.8 1182.3,250.0 1184.3,216.2 1186.8,233.1 1189.2,208.5 1191.7,186.2 1194.6,180.0 1197.4,187.7 1199.8,230.0 1202.3,246.9 1204.8,285.4 1207.2,323.8 1209.7,339.2 1212.2,305.4 1214.6,279.2 1216.9,244.2 1219.4,290.0 1221.5,237.7 1224.3,297.7 1226.8,334.6 1229.2,314.6 1231.7,333.8 1234.2,316.2 1236.9,320.0 1239.7,320.0 1242.3,242.3 1245.1,208.5 1247.2,343.1 1250.0,340.0" fill="none" stroke="#cb0c12" stroke-width="1.35" stroke-linejoin="round" stroke-linecap="round"/>
<rect x="63.60" y="76.80" width="728.10" height="585.80" fill="none" stroke="#111" stroke-width="1.6"/>
<line x1="63.60" y1="369.50" x2="791.70" y2="369.50" stroke="#111" stroke-width="1.6" />
<line x1="57.10" y1="369.50" x2="63.60" y2="369.50" stroke="#111" stroke-width="1.6" />
<line x1="785.20" y1="369.50" x2="791.70" y2="369.50" stroke="#111" stroke-width="1.6" />
<text x="54.70" y="378.40" font-size="25" font-family='"Liberation Sans", Arial, sans-serif' text-anchor="end" fill="#111" >0</text>
<line x1="60.10" y1="348.59" x2="63.60" y2="348.59" stroke="#111" stroke-width="1.6" />
<line x1="788.20" y1="348.59" x2="791.70" y2="348.59" stroke="#111" stroke-width="1.6" />
<line x1="57.10" y1="327.69" x2="63.60" y2="327.69" stroke="#111" stroke-width="1.6" />
<line x1="785.20" y1="327.69" x2="791.70" y2="327.69" stroke="#111" stroke-width="1.6" />
<text x="54.70" y="336.59" font-size="25" font-family='"Liberation Sans", Arial, sans-serif' text-anchor="end" fill="#111" >1</text>
<line x1="60.10" y1="306.78" x2="63.60" y2="306.78" stroke="#111" stroke-width="1.6" />
<line x1="788.20" y1="306.78" x2="791.70" y2="306.78" stroke="#111" stroke-width="1.6" />
<line x1="57.10" y1="285.87" x2="63.60" y2="285.87" stroke="#111" stroke-width="1.6" />
<line x1="785.20" y1="285.87" x2="791.70" y2="285.87" stroke="#111" stroke-width="1.6" />
<text x="54.70" y="294.77" font-size="25" font-family='"Liberation Sans", Arial, sans-serif' text-anchor="end" fill="#111" >2</text>
<line x1="60.10" y1="264.96" x2="63.60" y2="264.96" stroke="#111" stroke-width="1.6" />
<line x1="788.20" y1="264.96" x2="791.70" y2="264.96" stroke="#111" stroke-width="1.6" />
<line x1="57.10" y1="244.06" x2="63.60" y2="244.06" stroke="#111" stroke-width="1.6" />
<line x1="785.20" y1="244.06" x2="791.70" y2="244.06" stroke="#111" stroke-width="1.6" />
<text x="54.70" y="252.96" font-size="25" font-family='"Liberation Sans", Arial, sans-serif' text-anchor="end" fill="#111" >3</text>
<line x1="60.10" y1="223.15" x2="63.60" y2="223.15" stroke="#111" stroke-width="1.6" />
<line x1="788.20" y1="223.15" x2="791.70" y2="223.15" stroke="#111" stroke-width="1.6" />
<line x1="57.10" y1="202.24" x2="63.60" y2="202.24" stroke="#111" stroke-width="1.6" />
<line x1="785.20" y1="202.24" x2="791.70" y2="202.24" stroke="#111" stroke-width="1.6" />
<text x="54.70" y="211.14" font-size="25" font-family='"Liberation Sans", Arial, sans-serif' text-anchor="end" fill="#111" >4</text>
<line x1="60.10" y1="181.34" x2="63.60" y2="181.34" stroke="#111" stroke-width="1.6" />
<line x1="788.20" y1="181.34" x2="791.70" y2="181.34" stroke="#111" stroke-width="1.6" />
<line x1="57.10" y1="160.43" x2="63.60" y2="160.43" stroke="#111" stroke-width="1.6" />
<line x1="785.20" y1="160.43" x2="791.70" y2="160.43" stroke="#111" stroke-width="1.6" />
<text x="54.70" y="169.33" font-size="25" font-family='"Liberation Sans", Arial, sans-serif' text-anchor="end" fill="#111" >5</text>
<line x1="60.10" y1="139.52" x2="63.60" y2="139.52" stroke="#111" stroke-width="1.6" />
<line x1="788.20" y1="139.52" x2="791.70" y2="139.52" stroke="#111" stroke-width="1.6" />
<line x1="57.10" y1="118.61" x2="63.60" y2="118.61" stroke="#111" stroke-width="1.6" />
<line x1="785.20" y1="118.61" x2="791.70" y2="118.61" stroke="#111" stroke-width="1.6" />
<text x="54.70" y="127.51" font-size="25" font-family='"Liberation Sans", Arial, sans-serif' text-anchor="end" fill="#111" >6</text>
<line x1="60.10" y1="97.71" x2="63.60" y2="97.71" stroke="#111" stroke-width="1.6" />
<line x1="788.20" y1="97.71" x2="791.70" y2="97.71" stroke="#111" stroke-width="1.6" />
<line x1="57.10" y1="76.80" x2="63.60" y2="76.80" stroke="#111" stroke-width="1.6" />
<line x1="785.20" y1="76.80" x2="791.70" y2="76.80" stroke="#111" stroke-width="1.6" />
<text x="54.70" y="85.70" font-size="25" font-family='"Liberation Sans", Arial, sans-serif' text-anchor="end" fill="#111" >7</text>
<line x1="57.10" y1="662.60" x2="63.60" y2="662.60" stroke="#111" stroke-width="1.6" />
<line x1="785.20" y1="662.60" x2="791.70" y2="662.60" stroke="#111" stroke-width="1.6" />
<text x="54.70" y="671.50" font-size="25" font-family='"Liberation Sans", Arial, sans-serif' text-anchor="end" fill="#111" >0</text>
<line x1="60.10" y1="641.66" x2="63.60" y2="641.66" stroke="#111" stroke-width="1.6" />
<line x1="788.20" y1="641.66" x2="791.70" y2="641.66" stroke="#111" stroke-width="1.6" />
<line x1="57.10" y1="620.73" x2="63.60" y2="620.73" stroke="#111" stroke-width="1.6" />
<line x1="785.20" y1="620.73" x2="791.70" y2="620.73" stroke="#111" stroke-width="1.6" />
<text x="54.70" y="629.63" font-size="25" font-family='"Liberation Sans", Arial, sans-serif' text-anchor="end" fill="#111" >1</text>
<line x1="60.10" y1="599.79" x2="63.60" y2="599.79" stroke="#111" stroke-width="1.6" />
<line x1="788.20" y1="599.79" x2="791.70" y2="599.79" stroke="#111" stroke-width="1.6" />
<line x1="57.10" y1="578.86" x2="63.60" y2="578.86" stroke="#111" stroke-width="1.6" />
<line x1="785.20" y1="578.86" x2="791.70" y2="578.86" stroke="#111" stroke-width="1.6" />
<text x="54.70" y="587.76" font-size="25" font-family='"Liberation Sans", Arial, sans-serif' text-anchor="end" fill="#111" >2</text>
<line x1="60.10" y1="557.92" x2="63.60" y2="557.92" stroke="#111" stroke-width="1.6" />
<line x1="788.20" y1="557.92" x2="791.70" y2="557.92" stroke="#111" stroke-width="1.6" />
<line x1="57.10" y1="536.99" x2="63.60" y2="536.99" stroke="#111" stroke-width="1.6" />
<line x1="785.20" y1="536.99" x2="791.70" y2="536.99" stroke="#111" stroke-width="1.6" />
<text x="54.70" y="545.89" font-size="25" font-family='"Liberation Sans", Arial, sans-serif' text-anchor="end" fill="#111" >3</text>
<line x1="60.10" y1="516.05" x2="63.60" y2="516.05" stroke="#111" stroke-width="1.6" />
<line x1="788.20" y1="516.05" x2="791.70" y2="516.05" stroke="#111" stroke-width="1.6" />
<line x1="57.10" y1="495.11" x2="63.60" y2="495.11" stroke="#111" stroke-width="1.6" />
<line x1="785.20" y1="495.11" x2="791.70" y2="495.11" stroke="#111" stroke-width="1.6" />
<text x="54.70" y="504.01" font-size="25" font-family='"Liberation Sans", Arial, sans-serif' text-anchor="end" fill="#111" >4</text>
<line x1="60.10" y1="474.18" x2="63.60" y2="474.18" stroke="#111" stroke-width="1.6" />
<line x1="788.20" y1="474.18" x2="791.70" y2="474.18" stroke="#111" stroke-width="1.6" />
<line x1="57.10" y1="453.24" x2="63.60" y2="453.24" stroke="#111" stroke-width="1.6" />
<line x1="785.20" y1="453.24" x2="791.70" y2="453.24" stroke="#111" stroke-width="1.6" />
<text x="54.70" y="462.14" font-size="25" font-family='"Liberation Sans", Arial, sans-serif' text-anchor="end" fill="#111" >5</text>
<line x1="60.10" y1="432.31" x2="63.60" y2="432.31" stroke="#111" stroke-width="1.6" />
<line x1="788.20" y1="432.31" x2="791.70" y2="432.31" stroke="#111" stroke-width="1.6" />
<line x1="57.10" y1="411.37" x2="63.60" y2="411.37" stroke="#111" stroke-width="1.6" />
<line x1="785.20" y1="411.37" x2="791.70" y2="411.37" stroke="#111" stroke-width="1.6" />
<text x="54.70" y="420.27" font-size="25" font-family='"Liberation Sans", Arial, sans-serif' text-anchor="end" fill="#111" >6</text>
<line x1="60.10" y1="390.44" x2="63.60" y2="390.44" stroke="#111" stroke-width="1.6" />
<line x1="788.20" y1="390.44" x2="791.70" y2="390.44" stroke="#111" stroke-width="1.6" />
<line x1="79.50" y1="662.60" x2="79.50" y2="669.10" stroke="#111" stroke-width="1.6" />
<line x1="79.50" y1="76.80" x2="79.50" y2="83.30" stroke="#111" stroke-width="1.6" />
<line x1="79.50" y1="369.50" x2="79.50" y2="376.00" stroke="#111" stroke-width="1.6" />
<line x1="79.50" y1="363.00" x2="79.50" y2="369.50" stroke="#111" stroke-width="1.6" />
<text x="79.50" y="693.00" font-size="24" font-family='"Liberation Sans", Arial, sans-serif' text-anchor="middle" fill="#111" >40</text>
<line x1="102.80" y1="662.60" x2="102.80" y2="666.10" stroke="#111" stroke-width="1.6" />
<line x1="102.80" y1="76.80" x2="102.80" y2="80.30" stroke="#111" stroke-width="1.6" />
<line x1="102.80" y1="369.50" x2="102.80" y2="373.00" stroke="#111" stroke-width="1.6" />
<line x1="102.80" y1="366.00" x2="102.80" y2="369.50" stroke="#111" stroke-width="1.6" />
<line x1="126.10" y1="662.60" x2="126.10" y2="669.10" stroke="#111" stroke-width="1.6" />
<line x1="126.10" y1="76.80" x2="126.10" y2="83.30" stroke="#111" stroke-width="1.6" />
<line x1="126.10" y1="369.50" x2="126.10" y2="376.00" stroke="#111" stroke-width="1.6" />
<line x1="126.10" y1="363.00" x2="126.10" y2="369.50" stroke="#111" stroke-width="1.6" />
<text x="126.10" y="693.00" font-size="24" font-family='"Liberation Sans", Arial, sans-serif' text-anchor="middle" fill="#111" >60</text>
<line x1="149.40" y1="662.60" x2="149.40" y2="666.10" stroke="#111" stroke-width="1.6" />
<line x1="149.40" y1="76.80" x2="149.40" y2="80.30" stroke="#111" stroke-width="1.6" />
<line x1="149.40" y1="369.50" x2="149.40" y2="373.00" stroke="#111" stroke-width="1.6" />
<line x1="149.40" y1="366.00" x2="149.40" y2="369.50" stroke="#111" stroke-width="1.6" />
<line x1="172.70" y1="662.60" x2="172.70" y2="669.10" stroke="#111" stroke-width="1.6" />
<line x1="172.70" y1="76.80" x2="172.70" y2="83.30" stroke="#111" stroke-width="1.6" />
<line x1="172.70" y1="369.50" x2="172.70" y2="376.00" stroke="#111" stroke-width="1.6" />
<line x1="172.70" y1="363.00" x2="172.70" y2="369.50" stroke="#111" stroke-width="1.6" />
<text x="168.60" y="693.00" font-size="24" font-family='"Liberation Sans", Arial, sans-serif' text-anchor="middle" fill="#111" >80</text>
<line x1="196.00" y1="662.60" x2="196.00" y2="666.10" stroke="#111" stroke-width="1.6" />
<line x1="196.00" y1="76.80" x2="196.00" y2="80.30" stroke="#111" stroke-width="1.6" />
<line x1="196.00" y1="369.50" x2="196.00" y2="373.00" stroke="#111" stroke-width="1.6" />
<line x1="196.00" y1="366.00" x2="196.00" y2="369.50" stroke="#111" stroke-width="1.6" />
<line x1="219.30" y1="662.60" x2="219.30" y2="669.10" stroke="#111" stroke-width="1.6" />
<line x1="219.30" y1="76.80" x2="219.30" y2="83.30" stroke="#111" stroke-width="1.6" />
<line x1="219.30" y1="369.50" x2="219.30" y2="376.00" stroke="#111" stroke-width="1.6" />
<line x1="219.30" y1="363.00" x2="219.30" y2="369.50" stroke="#111" stroke-width="1.6" />
<text x="219.30" y="693.00" font-size="24" font-family='"Liberation Sans", Arial, sans-serif' text-anchor="middle" fill="#111" >100</text>
<line x1="242.60" y1="662.60" x2="242.60" y2="666.10" stroke="#111" stroke-width="1.6" />
<line x1="242.60" y1="76.80" x2="242.60" y2="80.30" stroke="#111" stroke-width="1.6" />
<line x1="242.60" y1="369.50" x2="242.60" y2="373.00" stroke="#111" stroke-width="1.6" />
<line x1="242.60" y1="366.00" x2="242.60" y2="369.50" stroke="#111" stroke-width="1.6" />
<line x1="265.90" y1="662.60" x2="265.90" y2="669.10" stroke="#111" stroke-width="1.6" />
<line x1="265.90" y1="76.80" x2="265.90" y2="83.30" stroke="#111" stroke-width="1.6" />
<line x1="265.90" y1="369.50" x2="265.90" y2="376.00" stroke="#111" stroke-width="1.6" />
<line x1="265.90" y1="363.00" x2="265.90" y2="369.50" stroke="#111" stroke-width="1.6" />
<text x="265.90" y="693.00" font-size="24" font-family='"Liberation Sans", Arial, sans-serif' text-anchor="middle" fill="#111" >120</text>
<line x1="289.20" y1="662.60" x2="289.20" y2="666.10" stroke="#111" stroke-width="1.6" />
<line x1="289.20" y1="76.80" x2="289.20" y2="80.30" stroke="#111" stroke-width="1.6" />
<line x1="289.20" y1="369.50" x2="289.20" y2="373.00" stroke="#111" stroke-width="1.6" />
<line x1="289.20" y1="366.00" x2="289.20" y2="369.50" stroke="#111" stroke-width="1.6" />
<line x1="312.50" y1="662.60" x2="312.50" y2="669.10" stroke="#111" stroke-width="1.6" />
<line x1="312.50" y1="76.80" x2="312.50" y2="83.30" stroke="#111" stroke-width="1.6" />
<line x1="312.50" y1="369.50" x2="312.50" y2="376.00" stroke="#111" stroke-width="1.6" />
<line x1="312.50" y1="363.00" x2="312.50" y2="369.50" stroke="#111" stroke-width="1.6" />
<text x="312.50" y="693.00" font-size="24" font-family='"Liberation Sans", Arial, sans-serif' text-anchor="middle" fill="#111" >140</text>
<line x1="335.80" y1="662.60" x2="335.80" y2="666.10" stroke="#111" stroke-width="1.6" />
<line x1="335.80" y1="76.80" x2="335.80" y2="80.30" stroke="#111" stroke-width="1.6" />
<line x1="335.80" y1="369.50" x2="335.80" y2="373.00" stroke="#111" stroke-width="1.6" />
<line x1="335.80" y1="366.00" x2="335.80" y2="369.50" stroke="#111" stroke-width="1.6" />
<line x1="359.10" y1="662.60" x2="359.10" y2="669.10" stroke="#111" stroke-width="1.6" />
<line x1="359.10" y1="76.80" x2="359.10" y2="83.30" stroke="#111" stroke-width="1.6" />
<line x1="359.10" y1="369.50" x2="359.10" y2="376.00" stroke="#111" stroke-width="1.6" />
<line x1="359.10" y1="363.00" x2="359.10" y2="369.50" stroke="#111" stroke-width="1.6" />
<text x="359.10" y="693.00" font-size="24" font-family='"Liberation Sans", Arial, sans-serif' text-anchor="middle" fill="#111" >160</text>
<line x1="382.40" y1="662.60" x2="382.40" y2="666.10" stroke="#111" stroke-width="1.6" />
<line x1="382.40" y1="76.80" x2="382.40" y2="80.30" stroke="#111" stroke-width="1.6" />
<line x1="382.40" y1="369.50" x2="382.40" y2="373.00" stroke="#111" stroke-width="1.6" />
<line x1="382.40" y1="366.00" x2="382.40" y2="369.50" stroke="#111" stroke-width="1.6" />
<line x1="405.70" y1="662.60" x2="405.70" y2="669.10" stroke="#111" stroke-width="1.6" />
<line x1="405.70" y1="76.80" x2="405.70" y2="83.30" stroke="#111" stroke-width="1.6" />
<line x1="405.70" y1="369.50" x2="405.70" y2="376.00" stroke="#111" stroke-width="1.6" />
<line x1="405.70" y1="363.00" x2="405.70" y2="369.50" stroke="#111" stroke-width="1.6" />
<text x="405.70" y="693.00" font-size="24" font-family='"Liberation Sans", Arial, sans-serif' text-anchor="middle" fill="#111" >180</text>
<line x1="444.30" y1="662.60" x2="444.30" y2="669.10" stroke="#111" stroke-width="1.6" />
<line x1="444.30" y1="76.80" x2="444.30" y2="83.30" stroke="#111" stroke-width="1.6" />
<line x1="444.30" y1="369.50" x2="444.30" y2="376.00" stroke="#111" stroke-width="1.6" />
<text x="444.30" y="693.00" font-size="24" font-family='"Liberation Sans", Arial, sans-serif' text-anchor="middle" fill="#111" >40</text>
<line x1="467.60" y1="662.60" x2="467.60" y2="666.10" stroke="#111" stroke-width="1.6" />
<line x1="467.60" y1="76.80" x2="467.60" y2="80.30" stroke="#111" stroke-width="1.6" />
<line x1="467.60" y1="369.50" x2="467.60" y2="373.00" stroke="#111" stroke-width="1.6" />
<line x1="490.90" y1="662.60" x2="490.90" y2="669.10" stroke="#111" stroke-width="1.6" />
<line x1="490.90" y1="76.80" x2="490.90" y2="83.30" stroke="#111" stroke-width="1.6" />
<line x1="490.90" y1="369.50" x2="490.90" y2="376.00" stroke="#111" stroke-width="1.6" />
<text x="490.90" y="693.00" font-size="24" font-family='"Liberation Sans", Arial, sans-serif' text-anchor="middle" fill="#111" >60</text>
<line x1="514.20" y1="662.60" x2="514.20" y2="666.10" stroke="#111" stroke-width="1.6" />
<line x1="514.20" y1="76.80" x2="514.20" y2="80.30" stroke="#111" stroke-width="1.6" />
<line x1="514.20" y1="369.50" x2="514.20" y2="373.00" stroke="#111" stroke-width="1.6" />
<line x1="537.50" y1="662.60" x2="537.50" y2="669.10" stroke="#111" stroke-width="1.6" />
<line x1="537.50" y1="76.80" x2="537.50" y2="83.30" stroke="#111" stroke-width="1.6" />
<line x1="537.50" y1="369.50" x2="537.50" y2="376.00" stroke="#111" stroke-width="1.6" />
<text x="537.50" y="693.00" font-size="24" font-family='"Liberation Sans", Arial, sans-serif' text-anchor="middle" fill="#111" >80</text>
<line x1="560.80" y1="662.60" x2="560.80" y2="666.10" stroke="#111" stroke-width="1.6" />
<line x1="560.80" y1="76.80" x2="560.80" y2="80.30" stroke="#111" stroke-width="1.6" />
<line x1="560.80" y1="369.50" x2="560.80" y2="373.00" stroke="#111" stroke-width="1.6" />
<line x1="584.10" y1="662.60" x2="584.10" y2="669.10" stroke="#111" stroke-width="1.6" />
<line x1="584.10" y1="76.80" x2="584.10" y2="83.30" stroke="#111" stroke-width="1.6" />
<line x1="584.10" y1="369.50" x2="584.10" y2="376.00" stroke="#111" stroke-width="1.6" />
<text x="584.10" y="693.00" font-size="24" font-family='"Liberation Sans", Arial, sans-serif' text-anchor="middle" fill="#111" >100</text>
<line x1="607.40" y1="662.60" x2="607.40" y2="666.10" stroke="#111" stroke-width="1.6" />
<line x1="607.40" y1="76.80" x2="607.40" y2="80.30" stroke="#111" stroke-width="1.6" />
<line x1="607.40" y1="369.50" x2="607.40" y2="373.00" stroke="#111" stroke-width="1.6" />
<line x1="630.70" y1="662.60" x2="630.70" y2="669.10" stroke="#111" stroke-width="1.6" />
<line x1="630.70" y1="76.80" x2="630.70" y2="83.30" stroke="#111" stroke-width="1.6" />
<line x1="630.70" y1="369.50" x2="630.70" y2="376.00" stroke="#111" stroke-width="1.6" />
<text x="630.70" y="693.00" font-size="24" font-family='"Liberation Sans", Arial, sans-serif' text-anchor="middle" fill="#111" >120</text>
<line x1="654.00" y1="662.60" x2="654.00" y2="666.10" stroke="#111" stroke-width="1.6" />
<line x1="654.00" y1="76.80" x2="654.00" y2="80.30" stroke="#111" stroke-width="1.6" />
<line x1="654.00" y1="369.50" x2="654.00" y2="373.00" stroke="#111" stroke-width="1.6" />
<line x1="677.30" y1="662.60" x2="677.30" y2="669.10" stroke="#111" stroke-width="1.6" />
<line x1="677.30" y1="76.80" x2="677.30" y2="83.30" stroke="#111" stroke-width="1.6" />
<line x1="677.30" y1="369.50" x2="677.30" y2="376.00" stroke="#111" stroke-width="1.6" />
<text x="677.30" y="693.00" font-size="24" font-family='"Liberation Sans", Arial, sans-serif' text-anchor="middle" fill="#111" >140</text>
<line x1="700.60" y1="662.60" x2="700.60" y2="666.10" stroke="#111" stroke-width="1.6" />
<line x1="700.60" y1="76.80" x2="700.60" y2="80.30" stroke="#111" stroke-width="1.6" />
<line x1="700.60" y1="369.50" x2="700.60" y2="373.00" stroke="#111" stroke-width="1.6" />
<line x1="723.90" y1="662.60" x2="723.90" y2="669.10" stroke="#111" stroke-width="1.6" />
<line x1="723.90" y1="76.80" x2="723.90" y2="83.30" stroke="#111" stroke-width="1.6" />
<line x1="723.90" y1="369.50" x2="723.90" y2="376.00" stroke="#111" stroke-width="1.6" />
<text x="723.90" y="693.00" font-size="24" font-family='"Liberation Sans", Arial, sans-serif' text-anchor="middle" fill="#111" >160</text>
<line x1="747.20" y1="662.60" x2="747.20" y2="666.10" stroke="#111" stroke-width="1.6" />
<line x1="747.20" y1="76.80" x2="747.20" y2="80.30" stroke="#111" stroke-width="1.6" />
<line x1="747.20" y1="369.50" x2="747.20" y2="373.00" stroke="#111" stroke-width="1.6" />
<line x1="770.50" y1="662.60" x2="770.50" y2="669.10" stroke="#111" stroke-width="1.6" />
<line x1="770.50" y1="76.80" x2="770.50" y2="83.30" stroke="#111" stroke-width="1.6" />
<line x1="770.50" y1="369.50" x2="770.50" y2="376.00" stroke="#111" stroke-width="1.6" />
<text x="770.50" y="693.00" font-size="24" font-family='"Liberation Sans", Arial, sans-serif' text-anchor="middle" fill="#111" >180</text>
<line x1="428.70" y1="76.80" x2="428.70" y2="662.60" stroke="#777" stroke-width="1.1" />
<line x1="220.45" y1="76.80" x2="220.45" y2="662.60" stroke="#111" stroke-width="2.7" stroke-dasharray="13.0 13.50" stroke-dashoffset="6.40"/>
<line x1="261.90" y1="76.80" x2="261.90" y2="662.60" stroke="#111" stroke-width="2.7" stroke-dasharray="13.0 13.50" stroke-dashoffset="6.40"/>
<line x1="219.10" y1="76.80" x2="227.45" y2="76.80" stroke="#111" stroke-width="2.7"/>
<line x1="236.51" y1="76.80" x2="245.84" y2="76.80" stroke="#111" stroke-width="2.7"/>
<line x1="254.90" y1="76.80" x2="263.25" y2="76.80" stroke="#111" stroke-width="2.7"/>
<line x1="219.10" y1="662.60" x2="227.45" y2="662.60" stroke="#111" stroke-width="2.7"/>
<line x1="236.51" y1="662.60" x2="245.84" y2="662.60" stroke="#111" stroke-width="2.7"/>
<line x1="254.90" y1="662.60" x2="263.25" y2="662.60" stroke="#111" stroke-width="2.7"/>
<rect x="353.80" y="76.80" width="41.30" height="585.80" fill="none" stroke="#111" stroke-width="2.6"/>
<line x1="574.36" y1="369.50" x2="574.36" y2="662.60" stroke="#111" stroke-width="2.7" stroke-dasharray="13.0 13.65" stroke-dashoffset="5.85"/>
<line x1="618.43" y1="369.50" x2="618.43" y2="662.60" stroke="#111" stroke-width="2.7" stroke-dasharray="13.0 13.65" stroke-dashoffset="5.85"/>
<line x1="573.01" y1="369.50" x2="581.36" y2="369.50" stroke="#111" stroke-width="2.7"/>
<line x1="591.44" y1="369.50" x2="601.35" y2="369.50" stroke="#111" stroke-width="2.7"/>
<line x1="611.43" y1="369.50" x2="619.78" y2="369.50" stroke="#111" stroke-width="2.7"/>
<line x1="573.01" y1="662.60" x2="581.36" y2="662.60" stroke="#111" stroke-width="2.7"/>
<line x1="591.44" y1="662.60" x2="601.35" y2="662.60" stroke="#111" stroke-width="2.7"/>
<line x1="611.43" y1="662.60" x2="619.78" y2="662.60" stroke="#111" stroke-width="2.7"/>
<rect x="711.40" y="369.50" width="36.00" height="293.10" fill="none" stroke="#111" stroke-width="2.6"/>
<rect x="345.80" y="154.60" width="36.10" height="6.30" fill="#363594" stroke="#1b1a7e" stroke-width="0.9" />
<rect x="213.40" y="273.20" width="49.10" height="6.30" fill="#fdf125" stroke="#f7e600" stroke-width="0.9" />
<rect x="345.80" y="388.90" width="36.10" height="6.30" fill="#363594" stroke="#1b1a7e" stroke-width="0.9" />
<rect x="213.20" y="464.80" width="49.10" height="6.30" fill="#fdf125" stroke="#f7e600" stroke-width="0.9" />
<rect x="572.90" y="481.00" width="49.70" height="6.30" fill="#fdf125" stroke="#f7e600" stroke-width="0.9" />
<rect x="705.90" y="459.00" width="36.20" height="6.30" fill="#363594" stroke="#1b1a7e" stroke-width="0.9" />
<text x="76.51" y="208.10" font-size="23.5" font-family='"Liberation Sans", Arial, sans-serif' text-anchor="start" fill="#111" >L</text>
<text x="96.20" y="208.25" font-size="24" font-family='"Liberation Serif", "Times New Roman", serif' text-anchor="start" fill="#111" >I</text>
<rect x="80.20" y="210.80" width="20.10" height="2.50" fill="#111" />
<text x="266.71" y="187.30" font-size="23.5" font-family='"Liberation Sans", Arial, sans-serif' text-anchor="start" fill="#111" >L</text>
<text x="279.80" y="187.45" font-size="24" font-family='"Liberation Serif", "Times New Roman", serif' text-anchor="start" fill="#111" >V</text>
<rect x="276.50" y="189.70" width="7.60" height="2.50" fill="#111" />
<text x="76.71" y="524.60" font-size="23.5" font-family='"Liberation Sans", Arial, sans-serif' text-anchor="start" fill="#111" >L</text>
<text x="96.40" y="524.75" font-size="24" font-family='"Liberation Serif", "Times New Roman", serif' text-anchor="start" fill="#111" >I</text>
<rect x="80.40" y="527.60" width="20.00" height="2.60" fill="#111" />
<text x="266.71" y="514.90" font-size="23.5" font-family='"Liberation Sans", Arial, sans-serif' text-anchor="start" fill="#111" >L</text>
<text x="279.80" y="515.05" font-size="24" font-family='"Liberation Serif", "Times New Roman", serif' text-anchor="start" fill="#111" >V</text>
<rect x="276.90" y="517.50" width="7.30" height="2.50" fill="#111" />
<text x="442.21" y="463.50" font-size="23.5" font-family='"Liberation Sans", Arial, sans-serif' text-anchor="start" fill="#111" >L</text>
<text x="461.50" y="463.65" font-size="24" font-family='"Liberation Serif", "Times New Roman", serif' text-anchor="start" fill="#111" >I</text>
<rect x="445.40" y="466.10" width="19.50" height="2.60" fill="#111" />
<text x="505.21" y="529.90" font-size="23.5" font-family='"Liberation Sans", Arial, sans-serif' text-anchor="start" fill="#111" >L</text>
<text x="525.60" y="530.05" font-size="23.5" font-family='"Liberation Serif", "Times New Roman", serif' text-anchor="start" fill="#111" >III</text>
<rect x="515.40" y="532.50" width="10.40" height="2.50" fill="#111" />
<text x="538.01" y="560.70" font-size="23.5" font-family='"Liberation Sans", Arial, sans-serif' text-anchor="start" fill="#111" >L</text>
<text x="556.60" y="560.85" font-size="24" font-family='"Liberation Serif", "Times New Roman", serif' text-anchor="start" fill="#111" >IV</text>
<rect x="545.70" y="564.50" width="24.30" height="2.50" fill="#111" />
<text x="67.50" y="102.60" font-size="24.2" font-family='"Liberation Sans", Arial, sans-serif' text-anchor="start" fill="#111" >Monomer</text>
<text x="67.40" y="396.90" font-size="23.6" font-family='"Liberation Sans", Arial, sans-serif' text-anchor="start" fill="#111" >Dimer</text>
<text x="143.30" y="397.40" font-size="20.9" font-family='"Liberation Sans", Arial, sans-serif' text-anchor="start" fill="#111" >Chain A</text>
<text x="490.00" y="396.60" font-size="21.2" font-family='"Liberation Sans", Arial, sans-serif' text-anchor="start" fill="#111" >Chain B</text>
<text transform="translate(30.1,363.6) rotate(-90)" font-size="24.7" font-family='"Liberation Sans", Arial, sans-serif' text-anchor="middle" fill="#111">RMSF (Å)</text>
<text x="431.00" y="726.20" font-size="29.3" font-family='"Liberation Sans", Arial, sans-serif' text-anchor="middle" fill="#111" >Residues</text>
<text x="4.50" y="50.60" font-size="64" font-family='"Liberation Sans", Arial, sans-serif' text-anchor="start" fill="#111" >A</text>
<rect x="863.20" y="77.10" width="781.60" height="586.00" fill="none" stroke="#111" stroke-width="1.6"/>
<line x1="863.20" y1="369.80" x2="1644.80" y2="369.80" stroke="#111" stroke-width="1.6" />
<line x1="856.70" y1="369.80" x2="863.20" y2="369.80" stroke="#111" stroke-width="1.6" />
<line x1="1638.30" y1="369.80" x2="1644.80" y2="369.80" stroke="#111" stroke-width="1.6" />
<text x="850.60" y="378.50" font-size="24.3" font-family='"Liberation Sans", Arial, sans-serif' text-anchor="end" fill="#111" >0</text>
<line x1="859.70" y1="340.53" x2="863.20" y2="340.53" stroke="#111" stroke-width="1.6" />
<line x1="1641.30" y1="340.53" x2="1644.80" y2="340.53" stroke="#111" stroke-width="1.6" />
<line x1="856.70" y1="311.26" x2="863.20" y2="311.26" stroke="#111" stroke-width="1.6" />
<line x1="1638.30" y1="311.26" x2="1644.80" y2="311.26" stroke="#111" stroke-width="1.6" />
<text x="850.60" y="319.96" font-size="24.3" font-family='"Liberation Sans", Arial, sans-serif' text-anchor="end" fill="#111" >1</text>
<line x1="859.70" y1="281.99" x2="863.20" y2="281.99" stroke="#111" stroke-width="1.6" />
<line x1="1641.30" y1="281.99" x2="1644.80" y2="281.99" stroke="#111" stroke-width="1.6" />
<line x1="856.70" y1="252.72" x2="863.20" y2="252.72" stroke="#111" stroke-width="1.6" />
<line x1="1638.30" y1="252.72" x2="1644.80" y2="252.72" stroke="#111" stroke-width="1.6" />
<text x="850.60" y="261.42" font-size="24.3" font-family='"Liberation Sans", Arial, sans-serif' text-anchor="end" fill="#111" >2</text>
<line x1="859.70" y1="223.45" x2="863.20" y2="223.45" stroke="#111" stroke-width="1.6" />
<line x1="1641.30" y1="223.45" x2="1644.80" y2="223.45" stroke="#111" stroke-width="1.6" />
<line x1="856.70" y1="194.18" x2="863.20" y2="194.18" stroke="#111" stroke-width="1.6" />
<line x1="1638.30" y1="194.18" x2="1644.80" y2="194.18" stroke="#111" stroke-width="1.6" />
<text x="850.60" y="202.88" font-size="24.3" font-family='"Liberation Sans", Arial, sans-serif' text-anchor="end" fill="#111" >3</text>
<line x1="859.70" y1="164.91" x2="863.20" y2="164.91" stroke="#111" stroke-width="1.6" />
<line x1="1641.30" y1="164.91" x2="1644.80" y2="164.91" stroke="#111" stroke-width="1.6" />
<line x1="856.70" y1="135.64" x2="863.20" y2="135.64" stroke="#111" stroke-width="1.6" />
<line x1="1638.30" y1="135.64" x2="1644.80" y2="135.64" stroke="#111" stroke-width="1.6" />
<text x="850.60" y="144.34" font-size="24.3" font-family='"Liberation Sans", Arial, sans-serif' text-anchor="end" fill="#111" >4</text>
<line x1="859.70" y1="106.37" x2="863.20" y2="106.37" stroke="#111" stroke-width="1.6" />
<line x1="1641.30" y1="106.37" x2="1644.80" y2="106.37" stroke="#111" stroke-width="1.6" />
<line x1="856.70" y1="77.10" x2="863.20" y2="77.10" stroke="#111" stroke-width="1.6" />
<line x1="1638.30" y1="77.10" x2="1644.80" y2="77.10" stroke="#111" stroke-width="1.6" />
<text x="850.60" y="85.80" font-size="24.3" font-family='"Liberation Sans", Arial, sans-serif' text-anchor="end" fill="#111" >5</text>
<line x1="856.70" y1="663.10" x2="863.20" y2="663.10" stroke="#111" stroke-width="1.6" />
<line x1="1638.30" y1="663.10" x2="1644.80" y2="663.10" stroke="#111" stroke-width="1.6" />
<text x="850.60" y="671.80" font-size="24.3" font-family='"Liberation Sans", Arial, sans-serif' text-anchor="end" fill="#111" >0</text>
<line x1="859.70" y1="633.77" x2="863.20" y2="633.77" stroke="#111" stroke-width="1.6" />
<line x1="1641.30" y1="633.77" x2="1644.80" y2="633.77" stroke="#111" stroke-width="1.6" />
<line x1="856.70" y1="604.44" x2="863.20" y2="604.44" stroke="#111" stroke-width="1.6" />
<line x1="1638.30" y1="604.44" x2="1644.80" y2="604.44" stroke="#111" stroke-width="1.6" />
<text x="850.60" y="613.14" font-size="24.3" font-family='"Liberation Sans", Arial, sans-serif' text-anchor="end" fill="#111" >1</text>
<line x1="859.70" y1="575.11" x2="863.20" y2="575.11" stroke="#111" stroke-width="1.6" />
<line x1="1641.30" y1="575.11" x2="1644.80" y2="575.11" stroke="#111" stroke-width="1.6" />
<line x1="856.70" y1="545.78" x2="863.20" y2="545.78" stroke="#111" stroke-width="1.6" />
<line x1="1638.30" y1="545.78" x2="1644.80" y2="545.78" stroke="#111" stroke-width="1.6" />
<text x="850.60" y="554.48" font-size="24.3" font-family='"Liberation Sans", Arial, sans-serif' text-anchor="end" fill="#111" >2</text>
<line x1="859.70" y1="516.45" x2="863.20" y2="516.45" stroke="#111" stroke-width="1.6" />
<line x1="1641.30" y1="516.45" x2="1644.80" y2="516.45" stroke="#111" stroke-width="1.6" />
<line x1="856.70" y1="487.12" x2="863.20" y2="487.12" stroke="#111" stroke-width="1.6" />
<line x1="1638.30" y1="487.12" x2="1644.80" y2="487.12" stroke="#111" stroke-width="1.6" />
<text x="850.60" y="495.82" font-size="24.3" font-family='"Liberation Sans", Arial, sans-serif' text-anchor="end" fill="#111" >3</text>
<line x1="859.70" y1="457.79" x2="863.20" y2="457.79" stroke="#111" stroke-width="1.6" />
<line x1="1641.30" y1="457.79" x2="1644.80" y2="457.79" stroke="#111" stroke-width="1.6" />
<line x1="856.70" y1="428.46" x2="863.20" y2="428.46" stroke="#111" stroke-width="1.6" />
<line x1="1638.30" y1="428.46" x2="1644.80" y2="428.46" stroke="#111" stroke-width="1.6" />
<text x="850.60" y="437.16" font-size="24.3" font-family='"Liberation Sans", Arial, sans-serif' text-anchor="end" fill="#111" >4</text>
<line x1="859.70" y1="399.13" x2="863.20" y2="399.13" stroke="#111" stroke-width="1.6" />
<line x1="1641.30" y1="399.13" x2="1644.80" y2="399.13" stroke="#111" stroke-width="1.6" />
<line x1="875.80" y1="663.10" x2="875.80" y2="666.60" stroke="#111" stroke-width="1.6" />
<line x1="875.80" y1="77.10" x2="875.80" y2="80.60" stroke="#111" stroke-width="1.6" />
<line x1="875.80" y1="369.80" x2="875.80" y2="373.30" stroke="#111" stroke-width="1.6" />
<line x1="875.80" y1="366.30" x2="875.80" y2="369.80" stroke="#111" stroke-width="1.6" />
<line x1="900.90" y1="663.10" x2="900.90" y2="669.60" stroke="#111" stroke-width="1.6" />
<line x1="900.90" y1="77.10" x2="900.90" y2="83.60" stroke="#111" stroke-width="1.6" />
<line x1="900.90" y1="369.80" x2="900.90" y2="376.30" stroke="#111" stroke-width="1.6" />
<line x1="900.90" y1="363.30" x2="900.90" y2="369.80" stroke="#111" stroke-width="1.6" />
<text x="900.90" y="693.20" font-size="23.4" font-family='"Liberation Sans", Arial, sans-serif' text-anchor="middle" fill="#111" >20</text>
<line x1="926.00" y1="663.10" x2="926.00" y2="666.60" stroke="#111" stroke-width="1.6" />
<line x1="926.00" y1="77.10" x2="926.00" y2="80.60" stroke="#111" stroke-width="1.6" />
<line x1="926.00" y1="369.80" x2="926.00" y2="373.30" stroke="#111" stroke-width="1.6" />
<line x1="926.00" y1="366.30" x2="926.00" y2="369.80" stroke="#111" stroke-width="1.6" />
<line x1="951.10" y1="663.10" x2="951.10" y2="669.60" stroke="#111" stroke-width="1.6" />
<line x1="951.10" y1="77.10" x2="951.10" y2="83.60" stroke="#111" stroke-width="1.6" />
<line x1="951.10" y1="369.80" x2="951.10" y2="376.30" stroke="#111" stroke-width="1.6" />
<line x1="951.10" y1="363.30" x2="951.10" y2="369.80" stroke="#111" stroke-width="1.6" />
<text x="951.10" y="693.20" font-size="23.4" font-family='"Liberation Sans", Arial, sans-serif' text-anchor="middle" fill="#111" >40</text>
<line x1="976.20" y1="663.10" x2="976.20" y2="666.60" stroke="#111" stroke-width="1.6" />
<line x1="976.20" y1="77.10" x2="976.20" y2="80.60" stroke="#111" stroke-width="1.6" />
<line x1="976.20" y1="369.80" x2="976.20" y2="373.30" stroke="#111" stroke-width="1.6" />
<line x1="976.20" y1="366.30" x2="976.20" y2="369.80" stroke="#111" stroke-width="1.6" />
<line x1="1001.30" y1="663.10" x2="1001.30" y2="669.60" stroke="#111" stroke-width="1.6" />
<line x1="1001.30" y1="77.10" x2="1001.30" y2="83.60" stroke="#111" stroke-width="1.6" />
<line x1="1001.30" y1="369.80" x2="1001.30" y2="376.30" stroke="#111" stroke-width="1.6" />
<line x1="1001.30" y1="363.30" x2="1001.30" y2="369.80" stroke="#111" stroke-width="1.6" />
<text x="1001.30" y="693.20" font-size="23.4" font-family='"Liberation Sans", Arial, sans-serif' text-anchor="middle" fill="#111" >60</text>
<line x1="1026.40" y1="663.10" x2="1026.40" y2="666.60" stroke="#111" stroke-width="1.6" />
<line x1="1026.40" y1="77.10" x2="1026.40" y2="80.60" stroke="#111" stroke-width="1.6" />
<line x1="1026.40" y1="369.80" x2="1026.40" y2="373.30" stroke="#111" stroke-width="1.6" />
<line x1="1026.40" y1="366.30" x2="1026.40" y2="369.80" stroke="#111" stroke-width="1.6" />
<line x1="1051.50" y1="663.10" x2="1051.50" y2="669.60" stroke="#111" stroke-width="1.6" />
<line x1="1051.50" y1="77.10" x2="1051.50" y2="83.60" stroke="#111" stroke-width="1.6" />
<line x1="1051.50" y1="369.80" x2="1051.50" y2="376.30" stroke="#111" stroke-width="1.6" />
<line x1="1051.50" y1="363.30" x2="1051.50" y2="369.80" stroke="#111" stroke-width="1.6" />
<text x="1051.50" y="693.20" font-size="23.4" font-family='"Liberation Sans", Arial, sans-serif' text-anchor="middle" fill="#111" >80</text>
<line x1="1076.60" y1="663.10" x2="1076.60" y2="666.60" stroke="#111" stroke-width="1.6" />
<line x1="1076.60" y1="77.10" x2="1076.60" y2="80.60" stroke="#111" stroke-width="1.6" />
<line x1="1076.60" y1="369.80" x2="1076.60" y2="373.30" stroke="#111" stroke-width="1.6" />
<line x1="1076.60" y1="366.30" x2="1076.60" y2="369.80" stroke="#111" stroke-width="1.6" />
<line x1="1101.70" y1="663.10" x2="1101.70" y2="669.60" stroke="#111" stroke-width="1.6" />
<line x1="1101.70" y1="77.10" x2="1101.70" y2="83.60" stroke="#111" stroke-width="1.6" />
<line x1="1101.70" y1="369.80" x2="1101.70" y2="376.30" stroke="#111" stroke-width="1.6" />
<line x1="1101.70" y1="363.30" x2="1101.70" y2="369.80" stroke="#111" stroke-width="1.6" />
<text x="1101.70" y="693.20" font-size="23.4" font-family='"Liberation Sans", Arial, sans-serif' text-anchor="middle" fill="#111" >100</text>
<line x1="1126.80" y1="663.10" x2="1126.80" y2="666.60" stroke="#111" stroke-width="1.6" />
<line x1="1126.80" y1="77.10" x2="1126.80" y2="80.60" stroke="#111" stroke-width="1.6" />
<line x1="1126.80" y1="369.80" x2="1126.80" y2="373.30" stroke="#111" stroke-width="1.6" />
<line x1="1126.80" y1="366.30" x2="1126.80" y2="369.80" stroke="#111" stroke-width="1.6" />
<line x1="1151.90" y1="663.10" x2="1151.90" y2="669.60" stroke="#111" stroke-width="1.6" />
<line x1="1151.90" y1="77.10" x2="1151.90" y2="83.60" stroke="#111" stroke-width="1.6" />
<line x1="1151.90" y1="369.80" x2="1151.90" y2="376.30" stroke="#111" stroke-width="1.6" />
<line x1="1151.90" y1="363.30" x2="1151.90" y2="369.80" stroke="#111" stroke-width="1.6" />
<text x="1151.90" y="693.20" font-size="23.4" font-family='"Liberation Sans", Arial, sans-serif' text-anchor="middle" fill="#111" >120</text>
<line x1="1177.00" y1="663.10" x2="1177.00" y2="666.60" stroke="#111" stroke-width="1.6" />
<line x1="1177.00" y1="77.10" x2="1177.00" y2="80.60" stroke="#111" stroke-width="1.6" />
<line x1="1177.00" y1="369.80" x2="1177.00" y2="373.30" stroke="#111" stroke-width="1.6" />
<line x1="1177.00" y1="366.30" x2="1177.00" y2="369.80" stroke="#111" stroke-width="1.6" />
<line x1="1202.10" y1="663.10" x2="1202.10" y2="669.60" stroke="#111" stroke-width="1.6" />
<line x1="1202.10" y1="77.10" x2="1202.10" y2="83.60" stroke="#111" stroke-width="1.6" />
<line x1="1202.10" y1="369.80" x2="1202.10" y2="376.30" stroke="#111" stroke-width="1.6" />
<line x1="1202.10" y1="363.30" x2="1202.10" y2="369.80" stroke="#111" stroke-width="1.6" />
<text x="1202.10" y="693.20" font-size="23.4" font-family='"Liberation Sans", Arial, sans-serif' text-anchor="middle" fill="#111" >140</text>
<line x1="1227.20" y1="663.10" x2="1227.20" y2="666.60" stroke="#111" stroke-width="1.6" />
<line x1="1227.20" y1="77.10" x2="1227.20" y2="80.60" stroke="#111" stroke-width="1.6" />
<line x1="1227.20" y1="369.80" x2="1227.20" y2="373.30" stroke="#111" stroke-width="1.6" />
<line x1="1227.20" y1="366.30" x2="1227.20" y2="369.80" stroke="#111" stroke-width="1.6" />
<line x1="1263.94" y1="663.10" x2="1263.94" y2="666.60" stroke="#111" stroke-width="1.6" />
<line x1="1263.94" y1="77.10" x2="1263.94" y2="80.60" stroke="#111" stroke-width="1.6" />
<line x1="1263.94" y1="369.80" x2="1263.94" y2="373.30" stroke="#111" stroke-width="1.6" />
<line x1="1289.50" y1="663.10" x2="1289.50" y2="669.60" stroke="#111" stroke-width="1.6" />
<line x1="1289.50" y1="77.10" x2="1289.50" y2="83.60" stroke="#111" stroke-width="1.6" />
<line x1="1289.50" y1="369.80" x2="1289.50" y2="376.30" stroke="#111" stroke-width="1.6" />
<text x="1289.50" y="693.20" font-size="23.4" font-family='"Liberation Sans", Arial, sans-serif' text-anchor="middle" fill="#111" >20</text>
<line x1="1315.06" y1="663.10" x2="1315.06" y2="666.60" stroke="#111" stroke-width="1.6" />
<line x1="1315.06" y1="77.10" x2="1315.06" y2="80.60" stroke="#111" stroke-width="1.6" />
<line x1="1315.06" y1="369.80" x2="1315.06" y2="373.30" stroke="#111" stroke-width="1.6" />
<line x1="1340.62" y1="663.10" x2="1340.62" y2="669.60" stroke="#111" stroke-width="1.6" />
<line x1="1340.62" y1="77.10" x2="1340.62" y2="83.60" stroke="#111" stroke-width="1.6" />
<line x1="1340.62" y1="369.80" x2="1340.62" y2="376.30" stroke="#111" stroke-width="1.6" />
<text x="1340.62" y="693.20" font-size="23.4" font-family='"Liberation Sans", Arial, sans-serif' text-anchor="middle" fill="#111" >40</text>
<line x1="1366.18" y1="663.10" x2="1366.18" y2="666.60" stroke="#111" stroke-width="1.6" />
<line x1="1366.18" y1="77.10" x2="1366.18" y2="80.60" stroke="#111" stroke-width="1.6" />
<line x1="1366.18" y1="369.80" x2="1366.18" y2="373.30" stroke="#111" stroke-width="1.6" />
<line x1="1391.74" y1="663.10" x2="1391.74" y2="669.60" stroke="#111" stroke-width="1.6" />
<line x1="1391.74" y1="77.10" x2="1391.74" y2="83.60" stroke="#111" stroke-width="1.6" />
<line x1="1391.74" y1="369.80" x2="1391.74" y2="376.30" stroke="#111" stroke-width="1.6" />
<text x="1391.74" y="693.20" font-size="23.4" font-family='"Liberation Sans", Arial, sans-serif' text-anchor="middle" fill="#111" >60</text>
<line x1="1417.30" y1="663.10" x2="1417.30" y2="666.60" stroke="#111" stroke-width="1.6" />
<line x1="1417.30" y1="77.10" x2="1417.30" y2="80.60" stroke="#111" stroke-width="1.6" />
<line x1="1417.30" y1="369.80" x2="1417.30" y2="373.30" stroke="#111" stroke-width="1.6" />
<line x1="1442.86" y1="663.10" x2="1442.86" y2="669.60" stroke="#111" stroke-width="1.6" />
<line x1="1442.86" y1="77.10" x2="1442.86" y2="83.60" stroke="#111" stroke-width="1.6" />
<line x1="1442.86" y1="369.80" x2="1442.86" y2="376.30" stroke="#111" stroke-width="1.6" />
<text x="1442.86" y="693.20" font-size="23.4" font-family='"Liberation Sans", Arial, sans-serif' text-anchor="middle" fill="#111" >80</text>
<line x1="1468.42" y1="663.10" x2="1468.42" y2="666.60" stroke="#111" stroke-width="1.6" />
<line x1="1468.42" y1="77.10" x2="1468.42" y2="80.60" stroke="#111" stroke-width="1.6" />
<line x1="1468.42" y1="369.80" x2="1468.42" y2="373.30" stroke="#111" stroke-width="1.6" />
<line x1="1493.98" y1="663.10" x2="1493.98" y2="669.60" stroke="#111" stroke-width="1.6" />
<line x1="1493.98" y1="77.10" x2="1493.98" y2="83.60" stroke="#111" stroke-width="1.6" />
<line x1="1493.98" y1="369.80" x2="1493.98" y2="376.30" stroke="#111" stroke-width="1.6" />
<text x="1493.98" y="693.20" font-size="23.4" font-family='"Liberation Sans", Arial, sans-serif' text-anchor="middle" fill="#111" >100</text>
<line x1="1519.54" y1="663.10" x2="1519.54" y2="666.60" stroke="#111" stroke-width="1.6" />
<line x1="1519.54" y1="77.10" x2="1519.54" y2="80.60" stroke="#111" stroke-width="1.6" />
<line x1="1519.54" y1="369.80" x2="1519.54" y2="373.30" stroke="#111" stroke-width="1.6" />
<line x1="1545.10" y1="663.10" x2="1545.10" y2="669.60" stroke="#111" stroke-width="1.6" />
<line x1="1545.10" y1="77.10" x2="1545.10" y2="83.60" stroke="#111" stroke-width="1.6" />
<line x1="1545.10" y1="369.80" x2="1545.10" y2="376.30" stroke="#111" stroke-width="1.6" />
<text x="1545.10" y="693.20" font-size="23.4" font-family='"Liberation Sans", Arial, sans-serif' text-anchor="middle" fill="#111" >120</text>
<line x1="1570.66" y1="663.10" x2="1570.66" y2="666.60" stroke="#111" stroke-width="1.6" />
<line x1="1570.66" y1="77.10" x2="1570.66" y2="80.60" stroke="#111" stroke-width="1.6" />
<line x1="1570.66" y1="369.80" x2="1570.66" y2="373.30" stroke="#111" stroke-width="1.6" />
<line x1="1596.22" y1="663.10" x2="1596.22" y2="669.60" stroke="#111" stroke-width="1.6" />
<line x1="1596.22" y1="77.10" x2="1596.22" y2="83.60" stroke="#111" stroke-width="1.6" />
<line x1="1596.22" y1="369.80" x2="1596.22" y2="376.30" stroke="#111" stroke-width="1.6" />
<text x="1596.22" y="693.20" font-size="23.4" font-family='"Liberation Sans", Arial, sans-serif' text-anchor="middle" fill="#111" >140</text>
<line x1="1621.78" y1="663.10" x2="1621.78" y2="666.60" stroke="#111" stroke-width="1.6" />
<line x1="1621.78" y1="77.10" x2="1621.78" y2="80.60" stroke="#111" stroke-width="1.6" />
<line x1="1621.78" y1="369.80" x2="1621.78" y2="373.30" stroke="#111" stroke-width="1.6" />
<line x1="1250.40" y1="77.10" x2="1250.40" y2="663.10" stroke="#777" stroke-width="1.1" />
<line x1="1032.40" y1="77.10" x2="1032.40" y2="663.10" stroke="#111" stroke-width="2.7" stroke-dasharray="13.0 13.65" stroke-dashoffset="6.65"/>
<line x1="1076.40" y1="77.10" x2="1076.40" y2="663.10" stroke="#111" stroke-width="2.7" stroke-dasharray="13.0 13.65" stroke-dashoffset="6.65"/>
<line x1="1031.05" y1="77.10" x2="1039.40" y2="77.10" stroke="#111" stroke-width="2.7"/>
<line x1="1049.45" y1="77.10" x2="1059.35" y2="77.10" stroke="#111" stroke-width="2.7"/>
<line x1="1069.40" y1="77.10" x2="1077.75" y2="77.10" stroke="#111" stroke-width="2.7"/>
<line x1="1031.05" y1="663.10" x2="1039.40" y2="663.10" stroke="#111" stroke-width="2.7"/>
<line x1="1049.45" y1="663.10" x2="1059.35" y2="663.10" stroke="#111" stroke-width="2.7"/>
<line x1="1069.40" y1="663.10" x2="1077.75" y2="663.10" stroke="#111" stroke-width="2.7"/>
<rect x="1175.70" y="77.10" width="44.20" height="586.00" fill="none" stroke="#111" stroke-width="2.4"/>
<line x1="1412.40" y1="369.80" x2="1412.40" y2="663.10" stroke="#111" stroke-width="2.7" stroke-dasharray="13.0 13.65" stroke-dashoffset="6.25"/>
<line x1="1461.30" y1="369.80" x2="1461.30" y2="663.10" stroke="#111" stroke-width="2.7" stroke-dasharray="13.0 13.65" stroke-dashoffset="6.25"/>
<line x1="1411.05" y1="369.80" x2="1419.40" y2="369.80" stroke="#111" stroke-width="2.7"/>
<line x1="1431.35" y1="369.80" x2="1442.35" y2="369.80" stroke="#111" stroke-width="2.7"/>
<line x1="1454.30" y1="369.80" x2="1462.65" y2="369.80" stroke="#111" stroke-width="2.7"/>
<line x1="1411.05" y1="663.10" x2="1419.40" y2="663.10" stroke="#111" stroke-width="2.7"/>
<line x1="1431.35" y1="663.10" x2="1442.35" y2="663.10" stroke="#111" stroke-width="2.7"/>
<line x1="1454.30" y1="663.10" x2="1462.65" y2="663.10" stroke="#111" stroke-width="2.7"/>
<rect x="1561.90" y="369.80" width="37.70" height="293.30" fill="none" stroke="#111" stroke-width="2.4"/>
<rect x="1016.40" y="155.70" width="61.50" height="5.80" fill="#fdf125" stroke="#f7e600" stroke-width="0.9" />
<rect x="1168.30" y="144.60" width="59.00" height="6.20" fill="#363594" stroke="#1b1a7e" stroke-width="0.9" />
<rect x="1016.40" y="418.10" width="61.50" height="6.00" fill="#fdf125" stroke="#f7e600" stroke-width="0.9" />
<rect x="1168.30" y="421.40" width="59.00" height="6.20" fill="#363594" stroke="#1b1a7e" stroke-width="0.9" />
<rect x="1408.30" y="451.30" width="61.00" height="6.40" fill="#fdf125" stroke="#f7e600" stroke-width="0.9" />
<rect x="1560.50" y="498.80" width="58.50" height="6.40" fill="#363594" stroke="#1b1a7e" stroke-width="0.9" />
<text x="881.04" y="207.60" font-size="24.5" font-family='"Liberation Sans", Arial, sans-serif' text-anchor="start" fill="#111" >L</text>
<text x="900.70" y="207.75" font-size="25" font-family='"Liberation Serif", "Times New Roman", serif' text-anchor="start" fill="#111" >I</text>
<rect x="884.10" y="210.90" width="22.00" height="4.00" fill="#111" />
<text x="1080.34" y="147.50" font-size="24.5" font-family='"Liberation Sans", Arial, sans-serif' text-anchor="start" fill="#111" >L</text>
<text x="1094.20" y="147.65" font-size="24.5" font-family='"Liberation Serif", "Times New Roman", serif' text-anchor="start" fill="#111" >V</text>
<rect x="1092.00" y="150.00" width="6.70" height="4.00" fill="#111" />
<text x="1080.34" y="409.10" font-size="24.5" font-family='"Liberation Sans", Arial, sans-serif' text-anchor="start" fill="#111" >L</text>
<text x="1094.20" y="409.25" font-size="24.5" font-family='"Liberation Serif", "Times New Roman", serif' text-anchor="start" fill="#111" >V</text>
<rect x="1092.00" y="410.60" width="6.70" height="3.80" fill="#111" />
<text x="882.04" y="460.30" font-size="24.5" font-family='"Liberation Sans", Arial, sans-serif' text-anchor="start" fill="#111" >L</text>
<text x="901.90" y="460.45" font-size="25" font-family='"Liberation Serif", "Times New Roman", serif' text-anchor="start" fill="#111" >I</text>
<rect x="884.60" y="463.70" width="21.70" height="3.90" fill="#111" />
<text x="1470.14" y="471.60" font-size="24.5" font-family='"Liberation Sans", Arial, sans-serif' text-anchor="start" fill="#111" >L</text>
<text x="1484.00" y="471.75" font-size="24.5" font-family='"Liberation Serif", "Times New Roman", serif' text-anchor="start" fill="#111" >V</text>
<rect x="1483.80" y="474.10" width="6.70" height="3.90" fill="#111" />
<text x="867.50" y="105.80" font-size="23.8" font-family='"Liberation Sans", Arial, sans-serif' text-anchor="start" fill="#111" >Monomer</text>
<text x="867.40" y="399.50" font-size="23.9" font-family='"Liberation Sans", Arial, sans-serif' text-anchor="start" fill="#111" >Dimer</text>
<text x="950.60" y="399.50" font-size="20.9" font-family='"Liberation Sans", Arial, sans-serif' text-anchor="start" fill="#111" >Chain A</text>
<text x="1328.50" y="399.50" font-size="20.6" font-family='"Liberation Sans", Arial, sans-serif' text-anchor="start" fill="#111" >Chain B</text>
<text transform="translate(828.9,361.8) rotate(-90)" font-size="24.7" font-family='"Liberation Sans", Arial, sans-serif' text-anchor="middle" fill="#111">RMSF (Å)</text>
<text x="1252.85" y="726.20" font-size="29.3" font-family='"Liberation Sans", Arial, sans-serif' text-anchor="middle" fill="#111" >Residues</text>
<text x="817.00" y="50.60" font-size="64" font-family='"Liberation Sans", Arial, sans-serif' text-anchor="start" fill="#111" >B</text>
<rect x="66.90" y="758.90" width="1578.40" height="633.70" fill="none" stroke="#111" stroke-width="1.6"/>
<line x1="66.90" y1="1076.60" x2="1645.30" y2="1076.60" stroke="#111" stroke-width="1.6" />
<line x1="59.90" y1="1076.60" x2="66.90" y2="1076.60" stroke="#111" stroke-width="1.6" />
<line x1="1638.30" y1="1076.60" x2="1645.30" y2="1076.60" stroke="#111" stroke-width="1.6" />
<text x="57.50" y="1085.50" font-size="25" font-family='"Liberation Sans", Arial, sans-serif' text-anchor="end" fill="#111" >0</text>
<line x1="63.30" y1="1053.91" x2="66.90" y2="1053.91" stroke="#111" stroke-width="1.6" />
<line x1="1641.70" y1="1053.91" x2="1645.30" y2="1053.91" stroke="#111" stroke-width="1.6" />
<line x1="59.90" y1="1031.21" x2="66.90" y2="1031.21" stroke="#111" stroke-width="1.6" />
<line x1="1638.30" y1="1031.21" x2="1645.30" y2="1031.21" stroke="#111" stroke-width="1.6" />
<text x="57.50" y="1040.11" font-size="25" font-family='"Liberation Sans", Arial, sans-serif' text-anchor="end" fill="#111" >1</text>
<line x1="63.30" y1="1008.52" x2="66.90" y2="1008.52" stroke="#111" stroke-width="1.6" />
<line x1="1641.70" y1="1008.52" x2="1645.30" y2="1008.52" stroke="#111" stroke-width="1.6" />
<line x1="59.90" y1="985.83" x2="66.90" y2="985.83" stroke="#111" stroke-width="1.6" />
<line x1="1638.30" y1="985.83" x2="1645.30" y2="985.83" stroke="#111" stroke-width="1.6" />
<text x="57.50" y="994.73" font-size="25" font-family='"Liberation Sans", Arial, sans-serif' text-anchor="end" fill="#111" >2</text>
<line x1="63.30" y1="963.14" x2="66.90" y2="963.14" stroke="#111" stroke-width="1.6" />
<line x1="1641.70" y1="963.14" x2="1645.30" y2="963.14" stroke="#111" stroke-width="1.6" />
<line x1="59.90" y1="940.44" x2="66.90" y2="940.44" stroke="#111" stroke-width="1.6" />
<line x1="1638.30" y1="940.44" x2="1645.30" y2="940.44" stroke="#111" stroke-width="1.6" />
<text x="57.50" y="949.34" font-size="25" font-family='"Liberation Sans", Arial, sans-serif' text-anchor="end" fill="#111" >3</text>
<line x1="63.30" y1="917.75" x2="66.90" y2="917.75" stroke="#111" stroke-width="1.6" />
<line x1="1641.70" y1="917.75" x2="1645.30" y2="917.75" stroke="#111" stroke-width="1.6" />
<line x1="59.90" y1="895.06" x2="66.90" y2="895.06" stroke="#111" stroke-width="1.6" />
<line x1="1638.30" y1="895.06" x2="1645.30" y2="895.06" stroke="#111" stroke-width="1.6" />
<text x="57.50" y="903.96" font-size="25" font-family='"Liberation Sans", Arial, sans-serif' text-anchor="end" fill="#111" >4</text>
<line x1="63.30" y1="872.36" x2="66.90" y2="872.36" stroke="#111" stroke-width="1.6" />
<line x1="1641.70" y1="872.36" x2="1645.30" y2="872.36" stroke="#111" stroke-width="1.6" />
<line x1="59.90" y1="849.67" x2="66.90" y2="849.67" stroke="#111" stroke-width="1.6" />
<line x1="1638.30" y1="849.67" x2="1645.30" y2="849.67" stroke="#111" stroke-width="1.6" />
<text x="57.50" y="858.57" font-size="25" font-family='"Liberation Sans", Arial, sans-serif' text-anchor="end" fill="#111" >5</text>
<line x1="63.30" y1="826.98" x2="66.90" y2="826.98" stroke="#111" stroke-width="1.6" />
<line x1="1641.70" y1="826.98" x2="1645.30" y2="826.98" stroke="#111" stroke-width="1.6" />
<line x1="59.90" y1="804.29" x2="66.90" y2="804.29" stroke="#111" stroke-width="1.6" />
<line x1="1638.30" y1="804.29" x2="1645.30" y2="804.29" stroke="#111" stroke-width="1.6" />
<text x="57.50" y="813.19" font-size="25" font-family='"Liberation Sans", Arial, sans-serif' text-anchor="end" fill="#111" >6</text>
<line x1="63.30" y1="781.59" x2="66.90" y2="781.59" stroke="#111" stroke-width="1.6" />
<line x1="1641.70" y1="781.59" x2="1645.30" y2="781.59" stroke="#111" stroke-width="1.6" />
<line x1="59.90" y1="758.90" x2="66.90" y2="758.90" stroke="#111" stroke-width="1.6" />
<line x1="1638.30" y1="758.90" x2="1645.30" y2="758.90" stroke="#111" stroke-width="1.6" />
<text x="57.50" y="767.80" font-size="25" font-family='"Liberation Sans", Arial, sans-serif' text-anchor="end" fill="#111" >7</text>
<line x1="59.90" y1="1392.60" x2="66.90" y2="1392.60" stroke="#111" stroke-width="1.6" />
<line x1="1638.30" y1="1392.60" x2="1645.30" y2="1392.60" stroke="#111" stroke-width="1.6" />
<text x="57.50" y="1401.50" font-size="25" font-family='"Liberation Sans", Arial, sans-serif' text-anchor="end" fill="#111" >0</text>
<line x1="63.30" y1="1370.03" x2="66.90" y2="1370.03" stroke="#111" stroke-width="1.6" />
<line x1="1641.70" y1="1370.03" x2="1645.30" y2="1370.03" stroke="#111" stroke-width="1.6" />
<line x1="59.90" y1="1347.46" x2="66.90" y2="1347.46" stroke="#111" stroke-width="1.6" />
<line x1="1638.30" y1="1347.46" x2="1645.30" y2="1347.46" stroke="#111" stroke-width="1.6" />
<text x="57.50" y="1356.36" font-size="25" font-family='"Liberation Sans", Arial, sans-serif' text-anchor="end" fill="#111" >1</text>
<line x1="63.30" y1="1324.89" x2="66.90" y2="1324.89" stroke="#111" stroke-width="1.6" />
<line x1="1641.70" y1="1324.89" x2="1645.30" y2="1324.89" stroke="#111" stroke-width="1.6" />
<line x1="59.90" y1="1302.31" x2="66.90" y2="1302.31" stroke="#111" stroke-width="1.6" />
<line x1="1638.30" y1="1302.31" x2="1645.30" y2="1302.31" stroke="#111" stroke-width="1.6" />
<text x="57.50" y="1311.21" font-size="25" font-family='"Liberation Sans", Arial, sans-serif' text-anchor="end" fill="#111" >2</text>
<line x1="63.30" y1="1279.74" x2="66.90" y2="1279.74" stroke="#111" stroke-width="1.6" />
<line x1="1641.70" y1="1279.74" x2="1645.30" y2="1279.74" stroke="#111" stroke-width="1.6" />
<line x1="59.90" y1="1257.17" x2="66.90" y2="1257.17" stroke="#111" stroke-width="1.6" />
<line x1="1638.30" y1="1257.17" x2="1645.30" y2="1257.17" stroke="#111" stroke-width="1.6" />
<text x="57.50" y="1266.07" font-size="25" font-family='"Liberation Sans", Arial, sans-serif' text-anchor="end" fill="#111" >3</text>
<line x1="63.30" y1="1234.60" x2="66.90" y2="1234.60" stroke="#111" stroke-width="1.6" />
<line x1="1641.70" y1="1234.60" x2="1645.30" y2="1234.60" stroke="#111" stroke-width="1.6" />
<line x1="59.90" y1="1212.03" x2="66.90" y2="1212.03" stroke="#111" stroke-width="1.6" />
<line x1="1638.30" y1="1212.03" x2="1645.30" y2="1212.03" stroke="#111" stroke-width="1.6" />
<text x="57.50" y="1220.93" font-size="25" font-family='"Liberation Sans", Arial, sans-serif' text-anchor="end" fill="#111" >4</text>
<line x1="63.30" y1="1189.46" x2="66.90" y2="1189.46" stroke="#111" stroke-width="1.6" />
<line x1="1641.70" y1="1189.46" x2="1645.30" y2="1189.46" stroke="#111" stroke-width="1.6" />
<line x1="59.90" y1="1166.89" x2="66.90" y2="1166.89" stroke="#111" stroke-width="1.6" />
<line x1="1638.30" y1="1166.89" x2="1645.30" y2="1166.89" stroke="#111" stroke-width="1.6" />
<text x="57.50" y="1175.79" font-size="25" font-family='"Liberation Sans", Arial, sans-serif' text-anchor="end" fill="#111" >5</text>
<line x1="63.30" y1="1144.31" x2="66.90" y2="1144.31" stroke="#111" stroke-width="1.6" />
<line x1="1641.70" y1="1144.31" x2="1645.30" y2="1144.31" stroke="#111" stroke-width="1.6" />
<line x1="59.90" y1="1121.74" x2="66.90" y2="1121.74" stroke="#111" stroke-width="1.6" />
<line x1="1638.30" y1="1121.74" x2="1645.30" y2="1121.74" stroke="#111" stroke-width="1.6" />
<text x="57.50" y="1130.64" font-size="25" font-family='"Liberation Sans", Arial, sans-serif' text-anchor="end" fill="#111" >6</text>
<line x1="63.30" y1="1099.17" x2="66.90" y2="1099.17" stroke="#111" stroke-width="1.6" />
<line x1="1641.70" y1="1099.17" x2="1645.30" y2="1099.17" stroke="#111" stroke-width="1.6" />
<line x1="84.34" y1="1392.60" x2="84.34" y2="1396.20" stroke="#111" stroke-width="1.6" />
<line x1="84.34" y1="758.90" x2="84.34" y2="762.50" stroke="#111" stroke-width="1.6" />
<line x1="84.34" y1="1076.60" x2="84.34" y2="1080.20" stroke="#111" stroke-width="1.6" />
<line x1="84.34" y1="1073.00" x2="84.34" y2="1076.60" stroke="#111" stroke-width="1.6" />
<line x1="103.90" y1="1392.60" x2="103.90" y2="1399.80" stroke="#111" stroke-width="1.6" />
<line x1="103.90" y1="758.90" x2="103.90" y2="766.10" stroke="#111" stroke-width="1.6" />
<line x1="103.90" y1="1076.60" x2="103.90" y2="1083.80" stroke="#111" stroke-width="1.6" />
<line x1="103.90" y1="1069.40" x2="103.90" y2="1076.60" stroke="#111" stroke-width="1.6" />
<text x="103.90" y="1423.00" font-size="24" font-family='"Liberation Sans", Arial, sans-serif' text-anchor="middle" fill="#111" >40</text>
<line x1="123.46" y1="1392.60" x2="123.46" y2="1396.20" stroke="#111" stroke-width="1.6" />
<line x1="123.46" y1="758.90" x2="123.46" y2="762.50" stroke="#111" stroke-width="1.6" />
<line x1="123.46" y1="1076.60" x2="123.46" y2="1080.20" stroke="#111" stroke-width="1.6" />
<line x1="123.46" y1="1073.00" x2="123.46" y2="1076.60" stroke="#111" stroke-width="1.6" />
<line x1="143.02" y1="1392.60" x2="143.02" y2="1399.80" stroke="#111" stroke-width="1.6" />
<line x1="143.02" y1="758.90" x2="143.02" y2="766.10" stroke="#111" stroke-width="1.6" />
<line x1="143.02" y1="1076.60" x2="143.02" y2="1083.80" stroke="#111" stroke-width="1.6" />
<line x1="143.02" y1="1069.40" x2="143.02" y2="1076.60" stroke="#111" stroke-width="1.6" />
<line x1="162.58" y1="1392.60" x2="162.58" y2="1396.20" stroke="#111" stroke-width="1.6" />
<line x1="162.58" y1="758.90" x2="162.58" y2="762.50" stroke="#111" stroke-width="1.6" />
<line x1="162.58" y1="1076.60" x2="162.58" y2="1080.20" stroke="#111" stroke-width="1.6" />
<line x1="162.58" y1="1073.00" x2="162.58" y2="1076.60" stroke="#111" stroke-width="1.6" />
<line x1="182.14" y1="1392.60" x2="182.14" y2="1399.80" stroke="#111" stroke-width="1.6" />
<line x1="182.14" y1="758.90" x2="182.14" y2="766.10" stroke="#111" stroke-width="1.6" />
<line x1="182.14" y1="1076.60" x2="182.14" y2="1083.80" stroke="#111" stroke-width="1.6" />
<line x1="182.14" y1="1069.40" x2="182.14" y2="1076.60" stroke="#111" stroke-width="1.6" />
<text x="182.14" y="1423.00" font-size="24" font-family='"Liberation Sans", Arial, sans-serif' text-anchor="middle" fill="#111" >80</text>
<line x1="201.70" y1="1392.60" x2="201.70" y2="1396.20" stroke="#111" stroke-width="1.6" />
<line x1="201.70" y1="758.90" x2="201.70" y2="762.50" stroke="#111" stroke-width="1.6" />
<line x1="201.70" y1="1076.60" x2="201.70" y2="1080.20" stroke="#111" stroke-width="1.6" />
<line x1="201.70" y1="1073.00" x2="201.70" y2="1076.60" stroke="#111" stroke-width="1.6" />
<line x1="221.26" y1="1392.60" x2="221.26" y2="1399.80" stroke="#111" stroke-width="1.6" />
<line x1="221.26" y1="758.90" x2="221.26" y2="766.10" stroke="#111" stroke-width="1.6" />
<line x1="221.26" y1="1076.60" x2="221.26" y2="1083.80" stroke="#111" stroke-width="1.6" />
<line x1="221.26" y1="1069.40" x2="221.26" y2="1076.60" stroke="#111" stroke-width="1.6" />
<line x1="240.82" y1="1392.60" x2="240.82" y2="1396.20" stroke="#111" stroke-width="1.6" />
<line x1="240.82" y1="758.90" x2="240.82" y2="762.50" stroke="#111" stroke-width="1.6" />
<line x1="240.82" y1="1076.60" x2="240.82" y2="1080.20" stroke="#111" stroke-width="1.6" />
<line x1="240.82" y1="1073.00" x2="240.82" y2="1076.60" stroke="#111" stroke-width="1.6" />
<line x1="260.38" y1="1392.60" x2="260.38" y2="1399.80" stroke="#111" stroke-width="1.6" />
<line x1="260.38" y1="758.90" x2="260.38" y2="766.10" stroke="#111" stroke-width="1.6" />
<line x1="260.38" y1="1076.60" x2="260.38" y2="1083.80" stroke="#111" stroke-width="1.6" />
<line x1="260.38" y1="1069.40" x2="260.38" y2="1076.60" stroke="#111" stroke-width="1.6" />
<text x="260.38" y="1423.00" font-size="24" font-family='"Liberation Sans", Arial, sans-serif' text-anchor="middle" fill="#111" >120</text>
<line x1="279.94" y1="1392.60" x2="279.94" y2="1396.20" stroke="#111" stroke-width="1.6" />
<line x1="279.94" y1="758.90" x2="279.94" y2="762.50" stroke="#111" stroke-width="1.6" />
<line x1="279.94" y1="1076.60" x2="279.94" y2="1080.20" stroke="#111" stroke-width="1.6" />
<line x1="279.94" y1="1073.00" x2="279.94" y2="1076.60" stroke="#111" stroke-width="1.6" />
<line x1="299.50" y1="1392.60" x2="299.50" y2="1399.80" stroke="#111" stroke-width="1.6" />
<line x1="299.50" y1="758.90" x2="299.50" y2="766.10" stroke="#111" stroke-width="1.6" />
<line x1="299.50" y1="1076.60" x2="299.50" y2="1083.80" stroke="#111" stroke-width="1.6" />
<line x1="299.50" y1="1069.40" x2="299.50" y2="1076.60" stroke="#111" stroke-width="1.6" />
<line x1="319.06" y1="1392.60" x2="319.06" y2="1396.20" stroke="#111" stroke-width="1.6" />
<line x1="319.06" y1="758.90" x2="319.06" y2="762.50" stroke="#111" stroke-width="1.6" />
<line x1="319.06" y1="1076.60" x2="319.06" y2="1080.20" stroke="#111" stroke-width="1.6" />
<line x1="319.06" y1="1073.00" x2="319.06" y2="1076.60" stroke="#111" stroke-width="1.6" />
<line x1="338.62" y1="1392.60" x2="338.62" y2="1399.80" stroke="#111" stroke-width="1.6" />
<line x1="338.62" y1="758.90" x2="338.62" y2="766.10" stroke="#111" stroke-width="1.6" />
<line x1="338.62" y1="1076.60" x2="338.62" y2="1083.80" stroke="#111" stroke-width="1.6" />
<line x1="338.62" y1="1069.40" x2="338.62" y2="1076.60" stroke="#111" stroke-width="1.6" />
<text x="338.62" y="1423.00" font-size="24" font-family='"Liberation Sans", Arial, sans-serif' text-anchor="middle" fill="#111" >160</text>
<line x1="358.18" y1="1392.60" x2="358.18" y2="1396.20" stroke="#111" stroke-width="1.6" />
<line x1="358.18" y1="758.90" x2="358.18" y2="762.50" stroke="#111" stroke-width="1.6" />
<line x1="358.18" y1="1076.60" x2="358.18" y2="1080.20" stroke="#111" stroke-width="1.6" />
<line x1="358.18" y1="1073.00" x2="358.18" y2="1076.60" stroke="#111" stroke-width="1.6" />
<line x1="377.74" y1="1392.60" x2="377.74" y2="1399.80" stroke="#111" stroke-width="1.6" />
<line x1="377.74" y1="758.90" x2="377.74" y2="766.10" stroke="#111" stroke-width="1.6" />
<line x1="377.74" y1="1076.60" x2="377.74" y2="1083.80" stroke="#111" stroke-width="1.6" />
<line x1="377.74" y1="1069.40" x2="377.74" y2="1076.60" stroke="#111" stroke-width="1.6" />
<line x1="397.30" y1="1392.60" x2="397.30" y2="1396.20" stroke="#111" stroke-width="1.6" />
<line x1="397.30" y1="758.90" x2="397.30" y2="762.50" stroke="#111" stroke-width="1.6" />
<line x1="397.30" y1="1076.60" x2="397.30" y2="1080.20" stroke="#111" stroke-width="1.6" />
<line x1="397.30" y1="1073.00" x2="397.30" y2="1076.60" stroke="#111" stroke-width="1.6" />
<line x1="416.86" y1="1392.60" x2="416.86" y2="1399.80" stroke="#111" stroke-width="1.6" />
<line x1="416.86" y1="758.90" x2="416.86" y2="766.10" stroke="#111" stroke-width="1.6" />
<line x1="416.86" y1="1076.60" x2="416.86" y2="1083.80" stroke="#111" stroke-width="1.6" />
<line x1="416.86" y1="1069.40" x2="416.86" y2="1076.60" stroke="#111" stroke-width="1.6" />
<text x="416.86" y="1423.00" font-size="24" font-family='"Liberation Sans", Arial, sans-serif' text-anchor="middle" fill="#111" >200</text>
<line x1="436.42" y1="1392.60" x2="436.42" y2="1396.20" stroke="#111" stroke-width="1.6" />
<line x1="436.42" y1="758.90" x2="436.42" y2="762.50" stroke="#111" stroke-width="1.6" />
<line x1="436.42" y1="1076.60" x2="436.42" y2="1080.20" stroke="#111" stroke-width="1.6" />
<line x1="436.42" y1="1073.00" x2="436.42" y2="1076.60" stroke="#111" stroke-width="1.6" />
<line x1="455.98" y1="1392.60" x2="455.98" y2="1399.80" stroke="#111" stroke-width="1.6" />
<line x1="455.98" y1="758.90" x2="455.98" y2="766.10" stroke="#111" stroke-width="1.6" />
<line x1="455.98" y1="1076.60" x2="455.98" y2="1083.80" stroke="#111" stroke-width="1.6" />
<line x1="455.98" y1="1069.40" x2="455.98" y2="1076.60" stroke="#111" stroke-width="1.6" />
<line x1="479.44" y1="1392.60" x2="479.44" y2="1396.20" stroke="#111" stroke-width="1.6" />
<line x1="479.44" y1="758.90" x2="479.44" y2="762.50" stroke="#111" stroke-width="1.6" />
<line x1="479.44" y1="1076.60" x2="479.44" y2="1080.20" stroke="#111" stroke-width="1.6" />
<line x1="499.00" y1="1392.60" x2="499.00" y2="1399.80" stroke="#111" stroke-width="1.6" />
<line x1="499.00" y1="758.90" x2="499.00" y2="766.10" stroke="#111" stroke-width="1.6" />
<line x1="499.00" y1="1076.60" x2="499.00" y2="1083.80" stroke="#111" stroke-width="1.6" />
<text x="499.00" y="1423.00" font-size="24" font-family='"Liberation Sans", Arial, sans-serif' text-anchor="middle" fill="#111" >40</text>
<line x1="518.56" y1="1392.60" x2="518.56" y2="1396.20" stroke="#111" stroke-width="1.6" />
<line x1="518.56" y1="758.90" x2="518.56" y2="762.50" stroke="#111" stroke-width="1.6" />
<line x1="518.56" y1="1076.60" x2="518.56" y2="1080.20" stroke="#111" stroke-width="1.6" />
<line x1="538.12" y1="1392.60" x2="538.12" y2="1399.80" stroke="#111" stroke-width="1.6" />
<line x1="538.12" y1="758.90" x2="538.12" y2="766.10" stroke="#111" stroke-width="1.6" />
<line x1="538.12" y1="1076.60" x2="538.12" y2="1083.80" stroke="#111" stroke-width="1.6" />
<line x1="557.68" y1="1392.60" x2="557.68" y2="1396.20" stroke="#111" stroke-width="1.6" />
<line x1="557.68" y1="758.90" x2="557.68" y2="762.50" stroke="#111" stroke-width="1.6" />
<line x1="557.68" y1="1076.60" x2="557.68" y2="1080.20" stroke="#111" stroke-width="1.6" />
<line x1="577.24" y1="1392.60" x2="577.24" y2="1399.80" stroke="#111" stroke-width="1.6" />
<line x1="577.24" y1="758.90" x2="577.24" y2="766.10" stroke="#111" stroke-width="1.6" />
<line x1="577.24" y1="1076.60" x2="577.24" y2="1083.80" stroke="#111" stroke-width="1.6" />
<text x="577.24" y="1423.00" font-size="24" font-family='"Liberation Sans", Arial, sans-serif' text-anchor="middle" fill="#111" >80</text>
<line x1="596.80" y1="1392.60" x2="596.80" y2="1396.20" stroke="#111" stroke-width="1.6" />
<line x1="596.80" y1="758.90" x2="596.80" y2="762.50" stroke="#111" stroke-width="1.6" />
<line x1="596.80" y1="1076.60" x2="596.80" y2="1080.20" stroke="#111" stroke-width="1.6" />
<line x1="616.36" y1="1392.60" x2="616.36" y2="1399.80" stroke="#111" stroke-width="1.6" />
<line x1="616.36" y1="758.90" x2="616.36" y2="766.10" stroke="#111" stroke-width="1.6" />
<line x1="616.36" y1="1076.60" x2="616.36" y2="1083.80" stroke="#111" stroke-width="1.6" />
<line x1="635.92" y1="1392.60" x2="635.92" y2="1396.20" stroke="#111" stroke-width="1.6" />
<line x1="635.92" y1="758.90" x2="635.92" y2="762.50" stroke="#111" stroke-width="1.6" />
<line x1="635.92" y1="1076.60" x2="635.92" y2="1080.20" stroke="#111" stroke-width="1.6" />
<line x1="655.48" y1="1392.60" x2="655.48" y2="1399.80" stroke="#111" stroke-width="1.6" />
<line x1="655.48" y1="758.90" x2="655.48" y2="766.10" stroke="#111" stroke-width="1.6" />
<line x1="655.48" y1="1076.60" x2="655.48" y2="1083.80" stroke="#111" stroke-width="1.6" />
<text x="655.48" y="1423.00" font-size="24" font-family='"Liberation Sans", Arial, sans-serif' text-anchor="middle" fill="#111" >120</text>
<line x1="675.04" y1="1392.60" x2="675.04" y2="1396.20" stroke="#111" stroke-width="1.6" />
<line x1="675.04" y1="758.90" x2="675.04" y2="762.50" stroke="#111" stroke-width="1.6" />
<line x1="675.04" y1="1076.60" x2="675.04" y2="1080.20" stroke="#111" stroke-width="1.6" />
<line x1="694.60" y1="1392.60" x2="694.60" y2="1399.80" stroke="#111" stroke-width="1.6" />
<line x1="694.60" y1="758.90" x2="694.60" y2="766.10" stroke="#111" stroke-width="1.6" />
<line x1="694.60" y1="1076.60" x2="694.60" y2="1083.80" stroke="#111" stroke-width="1.6" />
<line x1="714.16" y1="1392.60" x2="714.16" y2="1396.20" stroke="#111" stroke-width="1.6" />
<line x1="714.16" y1="758.90" x2="714.16" y2="762.50" stroke="#111" stroke-width="1.6" />
<line x1="714.16" y1="1076.60" x2="714.16" y2="1080.20" stroke="#111" stroke-width="1.6" />
<line x1="733.72" y1="1392.60" x2="733.72" y2="1399.80" stroke="#111" stroke-width="1.6" />
<line x1="733.72" y1="758.90" x2="733.72" y2="766.10" stroke="#111" stroke-width="1.6" />
<line x1="733.72" y1="1076.60" x2="733.72" y2="1083.80" stroke="#111" stroke-width="1.6" />
<text x="733.72" y="1423.00" font-size="24" font-family='"Liberation Sans", Arial, sans-serif' text-anchor="middle" fill="#111" >160</text>
<line x1="753.28" y1="1392.60" x2="753.28" y2="1396.20" stroke="#111" stroke-width="1.6" />
<line x1="753.28" y1="758.90" x2="753.28" y2="762.50" stroke="#111" stroke-width="1.6" />
<line x1="753.28" y1="1076.60" x2="753.28" y2="1080.20" stroke="#111" stroke-width="1.6" />
<line x1="772.84" y1="1392.60" x2="772.84" y2="1399.80" stroke="#111" stroke-width="1.6" />
<line x1="772.84" y1="758.90" x2="772.84" y2="766.10" stroke="#111" stroke-width="1.6" />
<line x1="772.84" y1="1076.60" x2="772.84" y2="1083.80" stroke="#111" stroke-width="1.6" />
<line x1="792.40" y1="1392.60" x2="792.40" y2="1396.20" stroke="#111" stroke-width="1.6" />
<line x1="792.40" y1="758.90" x2="792.40" y2="762.50" stroke="#111" stroke-width="1.6" />
<line x1="792.40" y1="1076.60" x2="792.40" y2="1080.20" stroke="#111" stroke-width="1.6" />
<line x1="811.96" y1="1392.60" x2="811.96" y2="1399.80" stroke="#111" stroke-width="1.6" />
<line x1="811.96" y1="758.90" x2="811.96" y2="766.10" stroke="#111" stroke-width="1.6" />
<line x1="811.96" y1="1076.60" x2="811.96" y2="1083.80" stroke="#111" stroke-width="1.6" />
<text x="811.96" y="1423.00" font-size="24" font-family='"Liberation Sans", Arial, sans-serif' text-anchor="middle" fill="#111" >200</text>
<line x1="831.52" y1="1392.60" x2="831.52" y2="1396.20" stroke="#111" stroke-width="1.6" />
<line x1="831.52" y1="758.90" x2="831.52" y2="762.50" stroke="#111" stroke-width="1.6" />
<line x1="831.52" y1="1076.60" x2="831.52" y2="1080.20" stroke="#111" stroke-width="1.6" />
<line x1="851.08" y1="1392.60" x2="851.08" y2="1399.80" stroke="#111" stroke-width="1.6" />
<line x1="851.08" y1="758.90" x2="851.08" y2="766.10" stroke="#111" stroke-width="1.6" />
<line x1="851.08" y1="1076.60" x2="851.08" y2="1083.80" stroke="#111" stroke-width="1.6" />
<line x1="873.94" y1="1392.60" x2="873.94" y2="1396.20" stroke="#111" stroke-width="1.6" />
<line x1="873.94" y1="758.90" x2="873.94" y2="762.50" stroke="#111" stroke-width="1.6" />
<line x1="873.94" y1="1076.60" x2="873.94" y2="1080.20" stroke="#111" stroke-width="1.6" />
<line x1="893.50" y1="1392.60" x2="893.50" y2="1399.80" stroke="#111" stroke-width="1.6" />
<line x1="893.50" y1="758.90" x2="893.50" y2="766.10" stroke="#111" stroke-width="1.6" />
<line x1="893.50" y1="1076.60" x2="893.50" y2="1083.80" stroke="#111" stroke-width="1.6" />
<text x="893.50" y="1423.00" font-size="24" font-family='"Liberation Sans", Arial, sans-serif' text-anchor="middle" fill="#111" >40</text>
<line x1="913.06" y1="1392.60" x2="913.06" y2="1396.20" stroke="#111" stroke-width="1.6" />
<line x1="913.06" y1="758.90" x2="913.06" y2="762.50" stroke="#111" stroke-width="1.6" />
<line x1="913.06" y1="1076.60" x2="913.06" y2="1080.20" stroke="#111" stroke-width="1.6" />
<line x1="932.62" y1="1392.60" x2="932.62" y2="1399.80" stroke="#111" stroke-width="1.6" />
<line x1="932.62" y1="758.90" x2="932.62" y2="766.10" stroke="#111" stroke-width="1.6" />
<line x1="932.62" y1="1076.60" x2="932.62" y2="1083.80" stroke="#111" stroke-width="1.6" />
<line x1="952.18" y1="1392.60" x2="952.18" y2="1396.20" stroke="#111" stroke-width="1.6" />
<line x1="952.18" y1="758.90" x2="952.18" y2="762.50" stroke="#111" stroke-width="1.6" />
<line x1="952.18" y1="1076.60" x2="952.18" y2="1080.20" stroke="#111" stroke-width="1.6" />
<line x1="971.74" y1="1392.60" x2="971.74" y2="1399.80" stroke="#111" stroke-width="1.6" />
<line x1="971.74" y1="758.90" x2="971.74" y2="766.10" stroke="#111" stroke-width="1.6" />
<line x1="971.74" y1="1076.60" x2="971.74" y2="1083.80" stroke="#111" stroke-width="1.6" />
<text x="971.74" y="1423.00" font-size="24" font-family='"Liberation Sans", Arial, sans-serif' text-anchor="middle" fill="#111" >80</text>
<line x1="991.30" y1="1392.60" x2="991.30" y2="1396.20" stroke="#111" stroke-width="1.6" />
<line x1="991.30" y1="758.90" x2="991.30" y2="762.50" stroke="#111" stroke-width="1.6" />
<line x1="991.30" y1="1076.60" x2="991.30" y2="1080.20" stroke="#111" stroke-width="1.6" />
<line x1="1010.86" y1="1392.60" x2="1010.86" y2="1399.80" stroke="#111" stroke-width="1.6" />
<line x1="1010.86" y1="758.90" x2="1010.86" y2="766.10" stroke="#111" stroke-width="1.6" />
<line x1="1010.86" y1="1076.60" x2="1010.86" y2="1083.80" stroke="#111" stroke-width="1.6" />
<line x1="1030.42" y1="1392.60" x2="1030.42" y2="1396.20" stroke="#111" stroke-width="1.6" />
<line x1="1030.42" y1="758.90" x2="1030.42" y2="762.50" stroke="#111" stroke-width="1.6" />
<line x1="1030.42" y1="1076.60" x2="1030.42" y2="1080.20" stroke="#111" stroke-width="1.6" />
<line x1="1049.98" y1="1392.60" x2="1049.98" y2="1399.80" stroke="#111" stroke-width="1.6" />
<line x1="1049.98" y1="758.90" x2="1049.98" y2="766.10" stroke="#111" stroke-width="1.6" />
<line x1="1049.98" y1="1076.60" x2="1049.98" y2="1083.80" stroke="#111" stroke-width="1.6" />
<text x="1049.98" y="1423.00" font-size="24" font-family='"Liberation Sans", Arial, sans-serif' text-anchor="middle" fill="#111" >120</text>
<line x1="1069.54" y1="1392.60" x2="1069.54" y2="1396.20" stroke="#111" stroke-width="1.6" />
<line x1="1069.54" y1="758.90" x2="1069.54" y2="762.50" stroke="#111" stroke-width="1.6" />
<line x1="1069.54" y1="1076.60" x2="1069.54" y2="1080.20" stroke="#111" stroke-width="1.6" />
<line x1="1089.10" y1="1392.60" x2="1089.10" y2="1399.80" stroke="#111" stroke-width="1.6" />
<line x1="1089.10" y1="758.90" x2="1089.10" y2="766.10" stroke="#111" stroke-width="1.6" />
<line x1="1089.10" y1="1076.60" x2="1089.10" y2="1083.80" stroke="#111" stroke-width="1.6" />
<line x1="1108.66" y1="1392.60" x2="1108.66" y2="1396.20" stroke="#111" stroke-width="1.6" />
<line x1="1108.66" y1="758.90" x2="1108.66" y2="762.50" stroke="#111" stroke-width="1.6" />
<line x1="1108.66" y1="1076.60" x2="1108.66" y2="1080.20" stroke="#111" stroke-width="1.6" />
<line x1="1128.22" y1="1392.60" x2="1128.22" y2="1399.80" stroke="#111" stroke-width="1.6" />
<line x1="1128.22" y1="758.90" x2="1128.22" y2="766.10" stroke="#111" stroke-width="1.6" />
<line x1="1128.22" y1="1076.60" x2="1128.22" y2="1083.80" stroke="#111" stroke-width="1.6" />
<text x="1128.22" y="1423.00" font-size="24" font-family='"Liberation Sans", Arial, sans-serif' text-anchor="middle" fill="#111" >160</text>
<line x1="1147.78" y1="1392.60" x2="1147.78" y2="1396.20" stroke="#111" stroke-width="1.6" />
<line x1="1147.78" y1="758.90" x2="1147.78" y2="762.50" stroke="#111" stroke-width="1.6" />
<line x1="1147.78" y1="1076.60" x2="1147.78" y2="1080.20" stroke="#111" stroke-width="1.6" />
<line x1="1167.34" y1="1392.60" x2="1167.34" y2="1399.80" stroke="#111" stroke-width="1.6" />
<line x1="1167.34" y1="758.90" x2="1167.34" y2="766.10" stroke="#111" stroke-width="1.6" />
<line x1="1167.34" y1="1076.60" x2="1167.34" y2="1083.80" stroke="#111" stroke-width="1.6" />
<line x1="1186.90" y1="1392.60" x2="1186.90" y2="1396.20" stroke="#111" stroke-width="1.6" />
<line x1="1186.90" y1="758.90" x2="1186.90" y2="762.50" stroke="#111" stroke-width="1.6" />
<line x1="1186.90" y1="1076.60" x2="1186.90" y2="1080.20" stroke="#111" stroke-width="1.6" />
<line x1="1206.46" y1="1392.60" x2="1206.46" y2="1399.80" stroke="#111" stroke-width="1.6" />
<line x1="1206.46" y1="758.90" x2="1206.46" y2="766.10" stroke="#111" stroke-width="1.6" />
<line x1="1206.46" y1="1076.60" x2="1206.46" y2="1083.80" stroke="#111" stroke-width="1.6" />
<text x="1206.46" y="1423.00" font-size="24" font-family='"Liberation Sans", Arial, sans-serif' text-anchor="middle" fill="#111" >200</text>
<line x1="1226.02" y1="1392.60" x2="1226.02" y2="1396.20" stroke="#111" stroke-width="1.6" />
<line x1="1226.02" y1="758.90" x2="1226.02" y2="762.50" stroke="#111" stroke-width="1.6" />
<line x1="1226.02" y1="1076.60" x2="1226.02" y2="1080.20" stroke="#111" stroke-width="1.6" />
<line x1="1245.58" y1="1392.60" x2="1245.58" y2="1399.80" stroke="#111" stroke-width="1.6" />
<line x1="1245.58" y1="758.90" x2="1245.58" y2="766.10" stroke="#111" stroke-width="1.6" />
<line x1="1245.58" y1="1076.60" x2="1245.58" y2="1083.80" stroke="#111" stroke-width="1.6" />
<line x1="1269.14" y1="1392.60" x2="1269.14" y2="1396.20" stroke="#111" stroke-width="1.6" />
<line x1="1269.14" y1="758.90" x2="1269.14" y2="762.50" stroke="#111" stroke-width="1.6" />
<line x1="1269.14" y1="1076.60" x2="1269.14" y2="1080.20" stroke="#111" stroke-width="1.6" />
<line x1="1288.70" y1="1392.60" x2="1288.70" y2="1399.80" stroke="#111" stroke-width="1.6" />
<line x1="1288.70" y1="758.90" x2="1288.70" y2="766.10" stroke="#111" stroke-width="1.6" />
<line x1="1288.70" y1="1076.60" x2="1288.70" y2="1083.80" stroke="#111" stroke-width="1.6" />
<text x="1288.70" y="1423.00" font-size="24" font-family='"Liberation Sans", Arial, sans-serif' text-anchor="middle" fill="#111" >40</text>
<line x1="1308.26" y1="1392.60" x2="1308.26" y2="1396.20" stroke="#111" stroke-width="1.6" />
<line x1="1308.26" y1="758.90" x2="1308.26" y2="762.50" stroke="#111" stroke-width="1.6" />
<line x1="1308.26" y1="1076.60" x2="1308.26" y2="1080.20" stroke="#111" stroke-width="1.6" />
<line x1="1327.82" y1="1392.60" x2="1327.82" y2="1399.80" stroke="#111" stroke-width="1.6" />
<line x1="1327.82" y1="758.90" x2="1327.82" y2="766.10" stroke="#111" stroke-width="1.6" />
<line x1="1327.82" y1="1076.60" x2="1327.82" y2="1083.80" stroke="#111" stroke-width="1.6" />
<line x1="1347.38" y1="1392.60" x2="1347.38" y2="1396.20" stroke="#111" stroke-width="1.6" />
<line x1="1347.38" y1="758.90" x2="1347.38" y2="762.50" stroke="#111" stroke-width="1.6" />
<line x1="1347.38" y1="1076.60" x2="1347.38" y2="1080.20" stroke="#111" stroke-width="1.6" />
<line x1="1366.94" y1="1392.60" x2="1366.94" y2="1399.80" stroke="#111" stroke-width="1.6" />
<line x1="1366.94" y1="758.90" x2="1366.94" y2="766.10" stroke="#111" stroke-width="1.6" />
<line x1="1366.94" y1="1076.60" x2="1366.94" y2="1083.80" stroke="#111" stroke-width="1.6" />
<text x="1366.94" y="1423.00" font-size="24" font-family='"Liberation Sans", Arial, sans-serif' text-anchor="middle" fill="#111" >80</text>
<line x1="1386.50" y1="1392.60" x2="1386.50" y2="1396.20" stroke="#111" stroke-width="1.6" />
<line x1="1386.50" y1="758.90" x2="1386.50" y2="762.50" stroke="#111" stroke-width="1.6" />
<line x1="1386.50" y1="1076.60" x2="1386.50" y2="1080.20" stroke="#111" stroke-width="1.6" />
<line x1="1406.06" y1="1392.60" x2="1406.06" y2="1399.80" stroke="#111" stroke-width="1.6" />
<line x1="1406.06" y1="758.90" x2="1406.06" y2="766.10" stroke="#111" stroke-width="1.6" />
<line x1="1406.06" y1="1076.60" x2="1406.06" y2="1083.80" stroke="#111" stroke-width="1.6" />
<line x1="1425.62" y1="1392.60" x2="1425.62" y2="1396.20" stroke="#111" stroke-width="1.6" />
<line x1="1425.62" y1="758.90" x2="1425.62" y2="762.50" stroke="#111" stroke-width="1.6" />
<line x1="1425.62" y1="1076.60" x2="1425.62" y2="1080.20" stroke="#111" stroke-width="1.6" />
<line x1="1445.18" y1="1392.60" x2="1445.18" y2="1399.80" stroke="#111" stroke-width="1.6" />
<line x1="1445.18" y1="758.90" x2="1445.18" y2="766.10" stroke="#111" stroke-width="1.6" />
<line x1="1445.18" y1="1076.60" x2="1445.18" y2="1083.80" stroke="#111" stroke-width="1.6" />
<text x="1445.18" y="1423.00" font-size="24" font-family='"Liberation Sans", Arial, sans-serif' text-anchor="middle" fill="#111" >120</text>
<line x1="1464.74" y1="1392.60" x2="1464.74" y2="1396.20" stroke="#111" stroke-width="1.6" />
<line x1="1464.74" y1="758.90" x2="1464.74" y2="762.50" stroke="#111" stroke-width="1.6" />
<line x1="1464.74" y1="1076.60" x2="1464.74" y2="1080.20" stroke="#111" stroke-width="1.6" />
<line x1="1484.30" y1="1392.60" x2="1484.30" y2="1399.80" stroke="#111" stroke-width="1.6" />
<line x1="1484.30" y1="758.90" x2="1484.30" y2="766.10" stroke="#111" stroke-width="1.6" />
<line x1="1484.30" y1="1076.60" x2="1484.30" y2="1083.80" stroke="#111" stroke-width="1.6" />
<line x1="1503.86" y1="1392.60" x2="1503.86" y2="1396.20" stroke="#111" stroke-width="1.6" />
<line x1="1503.86" y1="758.90" x2="1503.86" y2="762.50" stroke="#111" stroke-width="1.6" />
<line x1="1503.86" y1="1076.60" x2="1503.86" y2="1080.20" stroke="#111" stroke-width="1.6" />
<line x1="1523.42" y1="1392.60" x2="1523.42" y2="1399.80" stroke="#111" stroke-width="1.6" />
<line x1="1523.42" y1="758.90" x2="1523.42" y2="766.10" stroke="#111" stroke-width="1.6" />
<line x1="1523.42" y1="1076.60" x2="1523.42" y2="1083.80" stroke="#111" stroke-width="1.6" />
<text x="1523.42" y="1423.00" font-size="24" font-family='"Liberation Sans", Arial, sans-serif' text-anchor="middle" fill="#111" >160</text>
<line x1="1542.98" y1="1392.60" x2="1542.98" y2="1396.20" stroke="#111" stroke-width="1.6" />
<line x1="1542.98" y1="758.90" x2="1542.98" y2="762.50" stroke="#111" stroke-width="1.6" />
<line x1="1542.98" y1="1076.60" x2="1542.98" y2="1080.20" stroke="#111" stroke-width="1.6" />
<line x1="1562.54" y1="1392.60" x2="1562.54" y2="1399.80" stroke="#111" stroke-width="1.6" />
<line x1="1562.54" y1="758.90" x2="1562.54" y2="766.10" stroke="#111" stroke-width="1.6" />
<line x1="1562.54" y1="1076.60" x2="1562.54" y2="1083.80" stroke="#111" stroke-width="1.6" />
<line x1="1582.10" y1="1392.60" x2="1582.10" y2="1396.20" stroke="#111" stroke-width="1.6" />
<line x1="1582.10" y1="758.90" x2="1582.10" y2="762.50" stroke="#111" stroke-width="1.6" />
<line x1="1582.10" y1="1076.60" x2="1582.10" y2="1080.20" stroke="#111" stroke-width="1.6" />
<line x1="1601.66" y1="1392.60" x2="1601.66" y2="1399.80" stroke="#111" stroke-width="1.6" />
<line x1="1601.66" y1="758.90" x2="1601.66" y2="766.10" stroke="#111" stroke-width="1.6" />
<line x1="1601.66" y1="1076.60" x2="1601.66" y2="1083.80" stroke="#111" stroke-width="1.6" />
<text x="1601.66" y="1423.00" font-size="24" font-family='"Liberation Sans", Arial, sans-serif' text-anchor="middle" fill="#111" >200</text>
<line x1="1621.22" y1="1392.60" x2="1621.22" y2="1396.20" stroke="#111" stroke-width="1.6" />
<line x1="1621.22" y1="758.90" x2="1621.22" y2="762.50" stroke="#111" stroke-width="1.6" />
<line x1="1621.22" y1="1076.60" x2="1621.22" y2="1080.20" stroke="#111" stroke-width="1.6" />
<line x1="1640.78" y1="1392.60" x2="1640.78" y2="1399.80" stroke="#111" stroke-width="1.6" />
<line x1="1640.78" y1="758.90" x2="1640.78" y2="766.10" stroke="#111" stroke-width="1.6" />
<line x1="1640.78" y1="1076.60" x2="1640.78" y2="1083.80" stroke="#111" stroke-width="1.6" />
<line x1="461.60" y1="758.90" x2="461.60" y2="1392.60" stroke="#777" stroke-width="1.1" />
<line x1="856.30" y1="1076.60" x2="856.30" y2="1392.60" stroke="#777" stroke-width="1.1" />
<line x1="1250.50" y1="1076.60" x2="1250.50" y2="1392.60" stroke="#777" stroke-width="1.1" />
<rect x="105.40" y="1231.40" width="59.40" height="6.20" fill="#2474be" stroke="#0a56ad" stroke-width="0.9" />
<rect x="174.10" y="1231.40" width="45.70" height="6.20" fill="#2474be" stroke="#0a56ad" stroke-width="0.9" />
<rect x="499.60" y="1231.40" width="59.40" height="6.20" fill="#2474be" stroke="#0a56ad" stroke-width="0.9" />
<rect x="568.00" y="1231.40" width="45.70" height="6.20" fill="#2474be" stroke="#0a56ad" stroke-width="0.9" />
<rect x="894.20" y="1231.40" width="59.40" height="6.20" fill="#2474be" stroke="#0a56ad" stroke-width="0.9" />
<rect x="962.70" y="1231.40" width="45.70" height="6.20" fill="#2474be" stroke="#0a56ad" stroke-width="0.9" />
<rect x="1289.30" y="1231.40" width="59.40" height="6.20" fill="#2474be" stroke="#0a56ad" stroke-width="0.9" />
<rect x="1358.00" y="1231.40" width="45.70" height="6.20" fill="#2474be" stroke="#0a56ad" stroke-width="0.9" />
<rect x="105.50" y="914.20" width="59.40" height="6.40" fill="#2474be" stroke="#0a56ad" stroke-width="0.9" />
<rect x="174.10" y="914.20" width="45.70" height="6.40" fill="#2474be" stroke="#0a56ad" stroke-width="0.9" />
<text x="72.50" y="787.10" font-size="24.1" font-family='"Liberation Sans", Arial, sans-serif' text-anchor="start" fill="#111" >Monomer</text>
<text x="73.70" y="1109.50" font-size="23.4" font-family='"Liberation Sans", Arial, sans-serif' text-anchor="start" fill="#111" >Tetramer</text>
<text x="226.80" y="1110.00" font-size="20.9" font-family='"Liberation Sans", Arial, sans-serif' text-anchor="start" fill="#111" >Chain A</text>
<text x="615.90" y="1110.00" font-size="20.7" font-family='"Liberation Sans", Arial, sans-serif' text-anchor="start" fill="#111" >Chain B</text>
<text x="1006.30" y="1110.00" font-size="20.7" font-family='"Liberation Sans", Arial, sans-serif' text-anchor="start" fill="#111" >Chain C</text>
<text x="1404.20" y="1110.00" font-size="20.8" font-family='"Liberation Sans", Arial, sans-serif' text-anchor="start" fill="#111" >Chain D</text>
<text x="397.80" y="925.70" font-size="26" font-family='"Liberation Serif", "Times New Roman", serif' text-anchor="start" fill="#111" >α</text>
<text x="412.70" y="925.40" font-size="24.7" font-family='"Liberation Sans", Arial, sans-serif' text-anchor="start" fill="#111" >7</text>
<rect x="404.30" y="929.10" width="14.00" height="3.10" fill="#111" />
<text x="401.40" y="1241.30" font-size="22" font-family='"Liberation Serif", "Times New Roman", serif' text-anchor="start" fill="#111" >α</text>
<text x="413.20" y="1240.80" font-size="19.3" font-family='"Liberation Sans", Arial, sans-serif' text-anchor="start" fill="#111" >7</text>
<rect x="404.30" y="1244.40" width="14.00" height="3.20" fill="#111" />
<text x="1083.25" y="1200.90" font-size="23" font-family='"Liberation Sans", Arial, sans-serif' text-anchor="start" fill="#111" >L</text>
<text x="1096.90" y="1201.05" font-size="23.5" font-family='"Liberation Serif", "Times New Roman", serif' text-anchor="start" fill="#111" >V</text>
<rect x="1089.60" y="1205.30" width="13.20" height="3.30" fill="#111" />
<text transform="translate(35.3,1060.5) rotate(-90)" font-size="24.7" font-family='"Liberation Sans", Arial, sans-serif' text-anchor="middle" fill="#111">RMSF (Å)</text>
<text x="860.35" y="1457.10" font-size="29.3" font-family='"Liberation Sans", Arial, sans-serif' text-anchor="middle" fill="#111" >Residues</text>
<text x="0.80" y="737.30" font-size="65" font-family='"Liberation Sans", Arial, sans-serif' text-anchor="start" fill="#111" >C</text>
</svg></body></html>
